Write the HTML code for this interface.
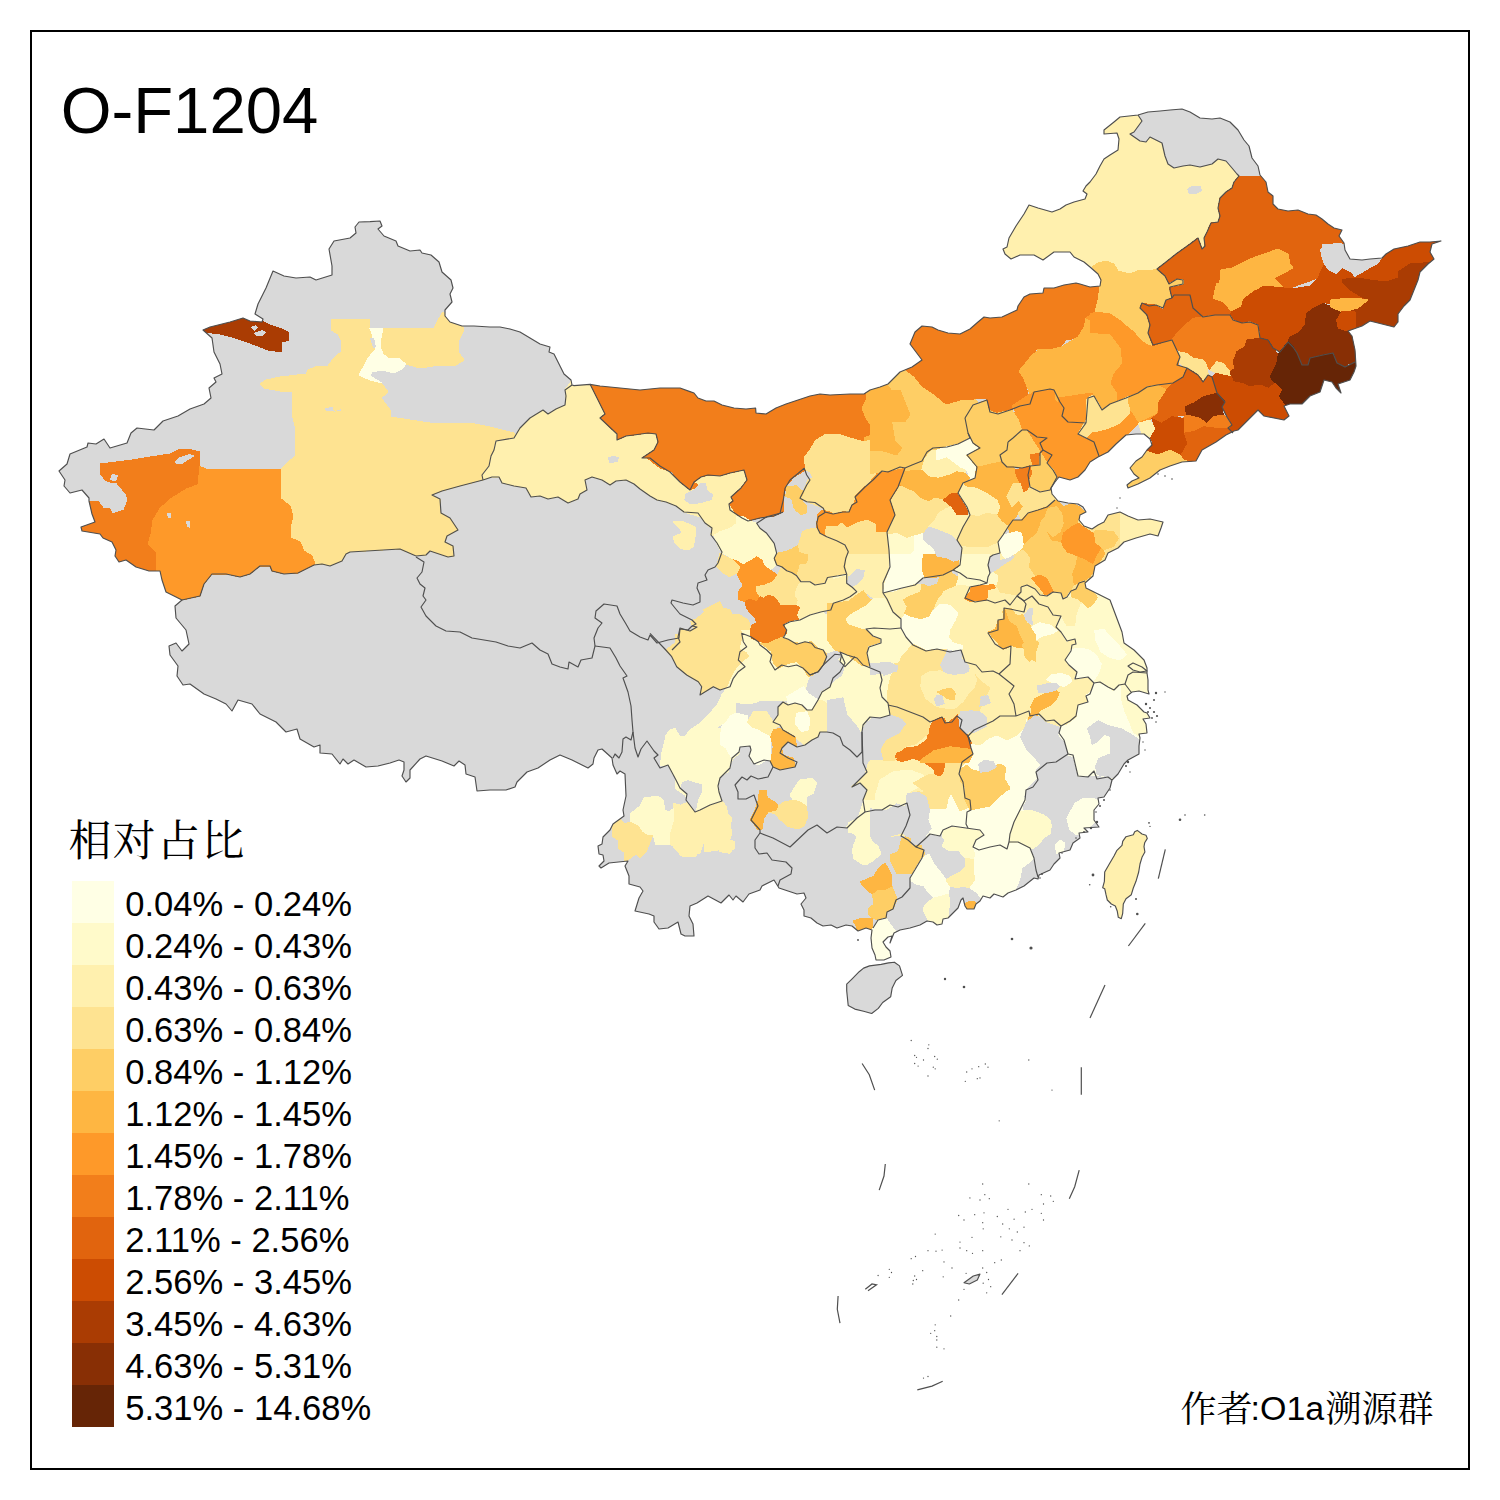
<!DOCTYPE html>
<html><head><meta charset="utf-8"><title>O-F1204</title>
<style>html,body{margin:0;padding:0;background:#fff;}body{width:1500px;height:1500px;overflow:hidden;font-family:"Liberation Sans",sans-serif;}svg{display:block;}</style>
</head><body>
<svg width="1500" height="1500" viewBox="0 0 1500 1500">
<rect x="0" y="0" width="1500" height="1500" fill="#fff"/>
<defs><clipPath id="cn"><polygon points="350,238 334,241 329,249 332,266 332,275 316,280 310,277 296,278 284,276 273,271 266,288 258,304 255,314 263,319 262,322 250,321 243,318 230,322 210,327 203,330 212,338 214,352 220,364 222,374 214,378 216,382 209,388 211,398 204,404 190,409 178,416 163,421 154,430 137,428 131,433 127,443 110,448 104,439 96,444 88,443 87,447 70,454 67,464 59,471 65,480 64,486 70,493 82,490 89,498 89,501 92,514 95,522 81,527 82,531 100,534 103,538 112,542 116,550 115,556 119,562 126,560 136,567 149,571 160,571 162,580 166,592 180,599 182,600 175,606 176,618 186,630 189,644 182,651 176,643 169,646 170,655 178,666 177,676 183,685 190,684 204,694 216,699 226,704 232,711 238,700 252,704 260,714 276,722 286,732 297,729 300,739 314,747 320,745 320,753 332,754 340,764 343,759 348,764 354,760 366,767 378,766 390,763 399,760 404,762 404,770 402,776 406,782 410,778 410,770 420,759 426,756 442,761 454,766 459,761 465,765 466,774 475,777 477,791 490,790 506,790 515,787 517,782 527,772 538,768 550,760 560,755 572,760 588,768 593,764 594,758 598,750 602,749 612,758 613,765 617,774 620,771 625,774 626,796 623,810 624,816 613,824 610,830 603,837 602,844 598,846 599,854 603,855 604,861 599,866 601,868 609,863 628,861 625,866 629,876 629,884 640,887 643,891 639,898 635,911 649,914 654,916 654,922 659,929 668,928 678,922 681,934 685,936 694,936 693,924 689,916 690,906 697,903 708,896 721,903 729,895 733,900 736,896 743,902 749,894 760,890 762,886 774,880 779,888 788,891 797,894 804,893 806,898 801,904 804,910 804,916 811,918 817,923 823,926 831,925 837,928 846,925 852,926 858,931 866,928 872,930 871,938 872,948 875,955 876,960 884,960 891,957 890,951 886,947 883,942 888,937 892,936 890,943 894,933 900,930 910,928 920,925 927,921 933,922 937,925 942,924 943,919 948,918 952,914 958,908 961,900 963,898 965,906 967,909 974,909 976,904 980,901 983,896 990,898 994,894 1003,897 1008,893 1016,890 1024,886 1034,878 1038,879 1039,875 1050,870 1054,864 1060,858 1059,853 1070,850 1073,843 1080,838 1079,833 1088,832 1084,828 1099,827 1094,820 1094,810 1099,804 1098,798 1104,797 1110,788 1112,780 1118,774 1124,764 1128,760 1139,754 1139,746 1140,738 1139,734 1147,733 1146,724 1143,719 1150,718 1147,713 1144,712 1137,705 1128,700 1127,696 1132,692 1139,691 1149,694 1148,690 1148,680 1147,673 1147,668 1144,660 1134,650 1124,643 1122,632 1116,616 1110,600 1098,594 1086,588 1085,583 1093,576 1095,566 1105,560 1108,553 1118,548 1124,542 1136,538 1150,534 1158,536 1161,528 1163,522 1150,519 1138,520 1128,516 1120,512 1108,515 1104,522 1098,525 1092,529 1084,526 1079,520 1080,515 1086,512 1083,507 1078,504 1068,503 1058,501 1052,494 1051,488 1055,482 1059,477 1070,480 1078,477 1085,470 1090,462 1098,457 1108,452 1116,444 1126,435 1136,434 1144,434 1150,439 1152,445 1147,450 1142,457 1136,461 1130,468 1134,474 1139,478 1132,481 1127,485 1128,488 1138,484 1150,478 1160,470 1170,466 1182,462 1196,461 1202,450 1216,442 1226,435 1234,431 1238,430 1250,418 1258,410 1264,416 1284,420 1289,416 1284,406 1290,404 1302,404 1310,396 1320,392 1324,380 1332,382 1336,388 1341,393 1338,384 1350,380 1354,372 1356,366 1355,350 1352,336 1348,331 1362,326 1370,321 1382,324 1394,327 1398,322 1398,314 1404,306 1410,300 1414,290 1418,280 1420,272 1428,264 1434,259 1430,252 1432,244 1441,241 1430,242 1420,242 1408,246 1394,249 1386,254 1382,258 1370,259 1362,260 1350,259 1345,250 1344,243 1339,236 1342,230 1334,228 1328,224 1322,219 1316,215 1308,214 1298,210 1288,211 1278,209 1273,204 1273,196 1268,192 1266,182 1260,175 1258,166 1252,158 1249,146 1244,140 1238,130 1230,122 1220,118 1212,119 1200,118 1190,112 1182,109 1170,110 1160,111 1148,112 1138,115 1120,117 1114,122 1104,130 1104,134 1117,133 1119,139 1118,150 1110,155 1104,159 1100,166 1096,174 1090,182 1086,186 1083,191 1087,194 1085,199 1074,202 1066,205 1060,209 1052,212 1038,208 1029,205 1024,214 1016,226 1009,238 1007,247 1003,249 1005,254 1011,259 1020,255 1034,255 1043,260 1054,252 1070,252 1074,257 1084,262 1090,267 1098,274 1101,280 1100,286 1090,287 1080,284 1076,283 1064,285 1054,288 1044,288 1043,293 1030,294 1024,297 1018,306 1017,310 1002,317 990,318 984,317 978,322 970,329 960,334 948,333 938,330 932,327 922,326 915,332 910,344 916,352 922,360 912,367 900,372 894,378 888,384 880,387 870,390 864,394 850,394 830,395 820,394 810,396 798,400 786,404 776,408 766,414 756,413 755.6,408 746,409 734,408 722,405 714,401 706,401 698,398 694,393 690,391.6 680,388 660,388 640,390 620,388 600,386 590,384.4 574,385.6 572,385 571,380 564,374 560,366 554,354 549,352 550,347 540,344 530,338 520,332 510,329 500,327 490,327 474,326 462,326 450,322 445,316 445,310 452,302 450,294 453,288 451,280 442,272 439,262 431,255 422,253 420,250 410,251 398,246 396,241 384,236 378,229 382,226 380,221 370,221.6 359,222 355,227 356,233"/></clipPath></defs>
<g shape-rendering="crispEdges">
<polygon points="350,238 334,241 329,249 332,266 332,275 316,280 310,277 296,278 284,276 273,271 266,288 258,304 255,314 263,319 262,322 250,321 243,318 230,322 210,327 203,330 212,338 214,352 220,364 222,374 214,378 216,382 209,388 211,398 204,404 190,409 178,416 163,421 154,430 137,428 131,433 127,443 110,448 104,439 96,444 88,443 87,447 70,454 67,464 59,471 65,480 64,486 70,493 82,490 89,498 89,501 92,514 95,522 81,527 82,531 100,534 103,538 112,542 116,550 115,556 119,562 126,560 136,567 149,571 160,571 162,580 166,592 180,599 182,600 175,606 176,618 186,630 189,644 182,651 176,643 169,646 170,655 178,666 177,676 183,685 190,684 204,694 216,699 226,704 232,711 238,700 252,704 260,714 276,722 286,732 297,729 300,739 314,747 320,745 320,753 332,754 340,764 343,759 348,764 354,760 366,767 378,766 390,763 399,760 404,762 404,770 402,776 406,782 410,778 410,770 420,759 426,756 442,761 454,766 459,761 465,765 466,774 475,777 477,791 490,790 506,790 515,787 517,782 527,772 538,768 550,760 560,755 572,760 588,768 593,764 594,758 598,750 602,749 612,758 613,765 617,774 620,771 625,774 626,796 623,810 624,816 613,824 610,830 603,837 602,844 598,846 599,854 603,855 604,861 599,866 601,868 609,863 628,861 625,866 629,876 629,884 640,887 643,891 639,898 635,911 649,914 654,916 654,922 659,929 668,928 678,922 681,934 685,936 694,936 693,924 689,916 690,906 697,903 708,896 721,903 729,895 733,900 736,896 743,902 749,894 760,890 762,886 774,880 779,888 788,891 797,894 804,893 806,898 801,904 804,910 804,916 811,918 817,923 823,926 831,925 837,928 846,925 852,926 858,931 866,928 872,930 871,938 872,948 875,955 876,960 884,960 891,957 890,951 886,947 883,942 888,937 892,936 890,943 894,933 900,930 910,928 920,925 927,921 933,922 937,925 942,924 943,919 948,918 952,914 958,908 961,900 963,898 965,906 967,909 974,909 976,904 980,901 983,896 990,898 994,894 1003,897 1008,893 1016,890 1024,886 1034,878 1038,879 1039,875 1050,870 1054,864 1060,858 1059,853 1070,850 1073,843 1080,838 1079,833 1088,832 1084,828 1099,827 1094,820 1094,810 1099,804 1098,798 1104,797 1110,788 1112,780 1118,774 1124,764 1128,760 1139,754 1139,746 1140,738 1139,734 1147,733 1146,724 1143,719 1150,718 1147,713 1144,712 1137,705 1128,700 1127,696 1132,692 1139,691 1149,694 1148,690 1148,680 1147,673 1147,668 1144,660 1134,650 1124,643 1122,632 1116,616 1110,600 1098,594 1086,588 1085,583 1093,576 1095,566 1105,560 1108,553 1118,548 1124,542 1136,538 1150,534 1158,536 1161,528 1163,522 1150,519 1138,520 1128,516 1120,512 1108,515 1104,522 1098,525 1092,529 1084,526 1079,520 1080,515 1086,512 1083,507 1078,504 1068,503 1058,501 1052,494 1051,488 1055,482 1059,477 1070,480 1078,477 1085,470 1090,462 1098,457 1108,452 1116,444 1126,435 1136,434 1144,434 1150,439 1152,445 1147,450 1142,457 1136,461 1130,468 1134,474 1139,478 1132,481 1127,485 1128,488 1138,484 1150,478 1160,470 1170,466 1182,462 1196,461 1202,450 1216,442 1226,435 1234,431 1238,430 1250,418 1258,410 1264,416 1284,420 1289,416 1284,406 1290,404 1302,404 1310,396 1320,392 1324,380 1332,382 1336,388 1341,393 1338,384 1350,380 1354,372 1356,366 1355,350 1352,336 1348,331 1362,326 1370,321 1382,324 1394,327 1398,322 1398,314 1404,306 1410,300 1414,290 1418,280 1420,272 1428,264 1434,259 1430,252 1432,244 1441,241 1430,242 1420,242 1408,246 1394,249 1386,254 1382,258 1370,259 1362,260 1350,259 1345,250 1344,243 1339,236 1342,230 1334,228 1328,224 1322,219 1316,215 1308,214 1298,210 1288,211 1278,209 1273,204 1273,196 1268,192 1266,182 1260,175 1258,166 1252,158 1249,146 1244,140 1238,130 1230,122 1220,118 1212,119 1200,118 1190,112 1182,109 1170,110 1160,111 1148,112 1138,115 1120,117 1114,122 1104,130 1104,134 1117,133 1119,139 1118,150 1110,155 1104,159 1100,166 1096,174 1090,182 1086,186 1083,191 1087,194 1085,199 1074,202 1066,205 1060,209 1052,212 1038,208 1029,205 1024,214 1016,226 1009,238 1007,247 1003,249 1005,254 1011,259 1020,255 1034,255 1043,260 1054,252 1070,252 1074,257 1084,262 1090,267 1098,274 1101,280 1100,286 1090,287 1080,284 1076,283 1064,285 1054,288 1044,288 1043,293 1030,294 1024,297 1018,306 1017,310 1002,317 990,318 984,317 978,322 970,329 960,334 948,333 938,330 932,327 922,326 915,332 910,344 916,352 922,360 912,367 900,372 894,378 888,384 880,387 870,390 864,394 850,394 830,395 820,394 810,396 798,400 786,404 776,408 766,414 756,413 755.6,408 746,409 734,408 722,405 714,401 706,401 698,398 694,393 690,391.6 680,388 660,388 640,390 620,388 600,386 590,384.4 574,385.6 572,385 571,380 564,374 560,366 554,354 549,352 550,347 540,344 530,338 520,332 510,329 500,327 490,327 474,326 462,326 450,322 445,316 445,310 452,302 450,294 453,288 451,280 442,272 439,262 431,255 422,253 420,250 410,251 398,246 396,241 384,236 378,229 382,226 380,221 370,221.6 359,222 355,227 356,233" fill="#D9D9D9"/>
<g clip-path="url(#cn)" stroke-width="1" stroke-linejoin="round">
<polygon points="331,319 369,319 370,328 375,344 376,349 368,358 364,366 359,374 370,380 382,384 388,392 381,398 390,410 391,417 410,420 430,423 470,423 490,427 514,433 514,438 496,441 494,450 491,456 489,466 482,475 483,480 460,486 442,491 432,495 440,499 441,513 450,518 458,530 447,536 445,542 453,546 454,556 448,557 430,551 426,555 416,556 400,549 350,552 346,554 342,561 330,566 322,564 314,565 315,564 312,556 304,551 300,542 291,538 290,528 293,516 290,506 280,498 280,480 282,468 295,456 295,426 293,418 292,400 293,392 280,391 264,388 260,384 266,380 280,377 306,374 308,370 318,366 328,366 334,358 341,352 342,342 338,334 331,330" fill="#FEE391" stroke="#FEE391"/>
<polygon points="383,328 434,328 438,320 443,312 450,320 462,325 464,330 459,340 458,352 464,360 456,365 440,365 420,368 406,364 398,358 388,358 383,354 380,346 381,338" fill="#FEE391" stroke="#FEE391"/>
<polygon points="369,328 383,328 381,338 380,346 383,354 388,358 398,358 406,364 402,369 394,373 382,370 372,372 370,376 382,383 370,380 359,375 364,366 368,358 376,349 375,344 370,328" fill="#FFFFE5" stroke="#FFFFE5"/>
<polygon points="200,331 210,326 230,321 243,317 250,320 262,321 270,325 282,329 288,332 289,340 282,342 281,352 268,350 250,343 232,337 220,334 212,333" fill="#AA3C03" stroke="#AA3C03"/>
<polygon points="199,466 206,469 281,469 280,480 280,498 290,506 293,516 290,528 291,538 300,542 304,551 312,556 315,564 314,565 298,573 284,574 272,571 270,566 260,566 250,574 240,577 226,574 212,574 204,584 200,596 182,600 170,600 155,580 155,570 156,560 155,552 147,544 150,534 152,520 159,508 170,498 186,488 197,484" fill="#FE9929" stroke="#FE9929"/>
<polygon points="100,464 132,460 150,457 170,454 178,450 188,449 200,452 199,466 197,484 186,488 170,498 159,508 152,520 150,534 147,544 155,552 156,560 155,570 155,582 70,582 60,520 70,505 89,501 98,501 103,508 110,509 112,514 124,510 128,500 126,494 116,482 110,482 105,480 100,473" fill="#F27E1B" stroke="#F27E1B"/>
<polygon points="483,480 482,475 489,466 491,456 494,450 496,441 514,438 520,428 530,418 543,410 548,414 556,409 565,405 566,396 565,390 572,380 592,380 605,414 600,418 617,434 617,440 626,436 634,435 648,433 656,434 658,442 654,450 642,458 650,458 660,466 670,472 680,482 690,490 694,482 701,477 708,475 720,476 730,473 744,470 747,480 741,488 731,497 733,501 729,504 730,510 742,518 748,521 740,524 720,520 700,517 684,512 676,506 666,502 657,500 650,496 640,489 634,484 626,480 616,481 610,485 602,480 592,477 585,480 587,490 580,494 578,499 568,503 558,497 548,499 540,496 531,497 526,488 514,486 502,483 499,477 492,477" fill="#FFF0AE" stroke="#FFF0AE"/>
<polygon points="590,384 590,360 860,360 866,394 866,400 862,408 866,418 870,424 874,434 864,438 864,442 850,438 838,434 826,434 816,440 810,450 804,458 806,470 802,472 794,477 786,486 784,496 783,512 774,516 760,518 748,521 742,518 730,510 729,504 733,501 731,497 741,488 747,480 744,470 730,473 720,476 708,475 701,477 694,482 699,486 690,490 680,482 672,472 660,468 646,457 642,458 654,450 658,442 656,434 648,433 634,435 626,436 617,440 617,434 600,418 605,414" fill="#F27E1B" stroke="#F27E1B"/>
<polygon points="866,394 870,380 888,378 894,392 896,404 906,412 910,418 906,422 892,422 890,428 896,440 900,446 890,444 880,442 870,440 864,442 864,438 874,434 870,424 866,418 862,408 866,400" fill="#FEB642" stroke="#FEB642"/>
<polygon points="888,384 888,370 906,362 914,376 922,386 934,394 946,404 960,400 974,399 978,402 972,410 966,418 964,426 970,434 970,438 958,444 948,446 936,449 928,452 924,458 920,466 910,464 905,468 902,458 900,446 896,440 890,428 892,422 906,422 910,418 906,412 896,404 894,392" fill="#FECE65" stroke="#FECE65"/>
<polygon points="906,370 914,376 922,386 934,394 946,404 960,400 974,399 986,398 990,412 998,414 1010,410 1020,406 1030,403 1026,386 1022,372 1030,364 1036,350 1046,348 1058,350 1066,340 1078,338 1084,328 1086,318 1095,312 1098,300 1100,286 1104,280 1085,276 1000,285 900,325 898,365" fill="#F27E1B" stroke="#F27E1B"/>
<polygon points="816,440 826,434 838,434 850,438 864,442 870,440 880,442 890,444 900,446 902,458 905,468 898,469 890,472 882,469 876,475 870,482 862,490 856,496 854,504 856,508 850,509 849,514 842,515 836,516 830,512 818,506 808,502 800,499 804,490 808,480 813,478 810,472 806,470 804,458 810,450" fill="#FEE391" stroke="#FEE391"/>
<polygon points="788,486 798,488 804,492 800,499 799,504 807,506 806,513 800,514 794,508 792,500 786,494" fill="#FECE65" stroke="#FECE65"/>
<polygon points="905,468 902,472 898,484 896,492 890,500 892,510 895,518 890,526 887,532 880,532 876,522 864,520 854,524 848,530 844,524 838,525 830,530 826,528 826,536 818,534 816,528 818,514 822,510 830,512 836,516 849,514 850,509 856,508 854,504 856,496 862,490 870,482 876,475 882,469 890,472 898,469" fill="#FE9929" stroke="#FE9929"/>
<polygon points="683.3,508.3 698.3,513.3 705,523.3 711.7,528.3 710.8,535 714.2,535 720,531.7 730,528.3 736.7,523.3 736.7,516.7 733.3,511.7 729.2,505 716.7,505 700,505" fill="#FFF0AE" stroke="#FFF0AE"/>
<polygon points="736.7,516.7 743.3,516.7 750,520.8 756.7,523.3 760,528.3 766.7,533.3 773.3,543.3 776.7,553.3 774.2,558.3 776.7,565 770,570 765,566.7 761.7,560 756.7,556.7 751.7,560 743.3,565 736.7,560 731.7,558.3 721.7,552.5 716.7,543.3 714.2,535 720,531.7 730,528.3 736.7,523.3" fill="#FFFACA" stroke="#FFFACA"/>
<polygon points="786.7,486.7 796.7,485.8 801.7,491.7 800,498.3 805.8,505 806.7,511.7 801.7,515 795,510 796.7,503.3 791.7,498.3 785.8,496.7" fill="#FECE65" stroke="#FECE65"/>
<polygon points="774.2,558.3 776.7,553.3 785,551.7 791.7,549.2 798.3,545 800,551.7 808.3,554.2 808.3,560 806.7,564.2 800,565 798.3,571.7 796.7,575.8 791.7,572.5 786.7,570.8 781.7,566.7 776.7,565" fill="#FECE65" stroke="#FECE65"/>
<polygon points="800,540 802.5,531.7 808.3,529.2 817.5,528.3 820,533.3 826.7,536.7 836.7,540.8 845,545 848.3,551.7 845.8,558.3 844.2,566.7 846.7,574.2 838.3,575.8 827.5,577.5 825,583.3 815,585 810,581.7 800.8,581.7 796.7,575.8 798.3,571.7 800,565 806.7,564.2 808.3,560 808.3,554.2 800,551.7 798.3,545" fill="#FEE391" stroke="#FEE391"/>
<polygon points="817.5,528.3 816.7,523.3 818.3,516.7 825,512.5 833.3,514.2 843.3,511.7 849.2,512.5 851.7,505 857.5,501.7 855,496.7 865,486.7 873.3,480 881.7,470.8 888.3,471.7 900,466.7 905,468.3 905,488.3 890,498.3 890,506.7 895,516.7 890,528.3 886.7,531.7 880,532.5 876.7,525 866.7,520 856.7,523.3 846.7,528.3 841.7,523.3 836.7,526.7 826.7,526.7 825,533.3 820,533.3" fill="#FE9929" stroke="#FE9929"/>
<polygon points="825,533.3 826.7,526.7 836.7,526.7 841.7,523.3 846.7,528.3 856.7,523.3 866.7,520 876.7,525 880,532.5 886.7,531.7 888.3,543.3 890,556.7 890,566.7 883.3,565 881.7,570 871.7,572.5 865,570 858.3,575 853.3,581.7 846.7,574.2 844.2,566.7 845.8,558.3 848.3,551.7 845,545 836.7,540.8 826.7,536.7" fill="#FEE391" stroke="#FEE391"/>
<polygon points="731.7,559.2 736.7,560.8 743.3,565 751.7,560 756.7,556.7 761.7,560 765,566.7 770,570 777.5,575 773.3,581.7 765,585 756.7,586.7 756.7,591.7 760,596.7 756.7,601.7 750,599.2 745,601.7 738.3,599.2 738.3,591.7 743.3,585 740,580 736.7,573.3 740,566.7" fill="#FE9929" stroke="#FE9929"/>
<polygon points="720,553.3 731.7,559.2 740,566.7 736.7,573.3 730,576.7 723.3,573.3 716.7,566.7 718.3,560" fill="#FEE391" stroke="#FEE391"/>
<polygon points="756.7,586.7 765,585 773.3,581.7 777.5,575 781.7,566.7 786.7,570.8 791.7,572.5 796.7,575.8 800.8,581.7 796.7,588.3 795,595 798.3,600 796.7,605 780,605 776.7,600 773.3,596.7 768.3,595 763.3,598.3 760,596.7 756.7,591.7" fill="#FEE391" stroke="#FEE391"/>
<polygon points="745,601.7 750,599.2 756.7,601.7 760,596.7 763.3,598.3 768.3,595 773.3,596.7 776.7,600 780,605 796.7,605 800.8,606.7 797.5,615 800,620 790,621.7 783.3,625 786.7,630 785,635 776.7,638.3 773.3,641.7 766.7,643.3 758.3,641.7 751.7,636.7 750.8,628.3 758.3,625.8 755,618.3 750,613.3 746.7,608.3" fill="#F27E1B" stroke="#F27E1B"/>
<polygon points="673.3,521.7 683.3,521.7 695,526.7 695,536.7 693.3,546.7 688.3,550 680,548.3 675,543.3 673.3,536.7 681.7,533.3 680,528.3" fill="#FFF0AE" stroke="#FFF0AE"/>
<polygon points="690.8,621.7 694.2,619.2 695.8,623.3 692.5,626.7" fill="#FEE391" stroke="#FEE391"/>
<polygon points="680,628.3 690,630.8 696.7,626.7 705,623.3 708.3,618.3 703.3,610 713.3,605 720,601.7 723.3,608.3 730,614.2 740,615 748.3,620 750.8,628.3 745,631.7 741.7,633.3 743.3,641.7 746.7,646.7 740,651.7 738.3,660 745,666.7 738.3,671.7 733.3,678.3 730,686.7 720,690 713.3,686.7 700,695 701.7,686.7 698.3,681.7 686.7,675 676.7,666.7 671.7,656.7 665.8,650 675,643.3 680.8,636.7" fill="#FEE391" stroke="#FEE391"/>
<polygon points="758.3,641.7 766.7,643.3 773.3,641.7 776.7,638.3 783.3,637.5 788.3,639.2 796.7,644.2 805,641.7 811.7,643.3 815,647.5 823.3,650 826.7,656.7 823.3,665 818.3,671.7 810,675 803.3,668.3 796.7,665 788.3,666.7 781.7,665 775,670 770,661.7 771.7,655 766.7,650 760,645" fill="#FECE65" stroke="#FECE65"/>
<polygon points="800.8,581.7 810,581.7 815,585 825,583.3 827.5,577.5 833.3,576.7 833.3,603.3 830.8,610 821.7,611.7 810,615 800,620 797.5,615 800.8,606.7 796.7,605 798.3,600 795,595 796.7,588.3" fill="#FFF0AE" stroke="#FFF0AE"/>
<polygon points="833.3,576.7 838.3,575.8 846.7,574.2 846.7,583.3 852.5,587.5 856.7,591.7 850,596.7 843.3,600 833.3,603.3" fill="#FFFACA" stroke="#FFFACA"/>
<polygon points="830.8,610 833.3,603.3 843.3,600 850,596.7 856.7,591.7 863.3,590.8 865,596.7 871.7,601.7 866.7,606.7 865,613.3 855,614.2 846.7,620 846.7,625 855,630 866.7,631.7 871.7,630 873.3,636.7 881.7,638.3 880,644.2 870,646.7 866.7,651.7 868.3,665 861.7,665 855,656.7 843.3,653.3 838.3,648.3 835,638.3 833.3,626.7 835,620 826.7,615" fill="#FECE65" stroke="#FECE65"/>
<polygon points="786.7,630 783.3,625 790,621.7 800,620 810,615 821.7,611.7 826.7,615 835,620 833.3,626.7 835,638.3 838.3,648.3 835,654.2 826.7,656.7 823.3,650 815,647.5 811.7,643.3 805,641.7 796.7,644.2 788.3,639.2 783.3,637.5 785,635" fill="#FFFACA" stroke="#FFFACA"/>
<polygon points="986.7,573.3 1096.7,573.3 1096.7,616.7 986.7,616.7" fill="#FEE391" stroke="#FEE391"/>
<polygon points="870,416.7 891.7,416.7 913.3,410 946.7,406.7 965,418.3 968.3,433.3 973.3,443.3 980,448.3 966.7,455 946.7,450 921.7,470 901.7,471.7 890,471.7 870,473.3" fill="#FECE65" stroke="#FECE65"/>
<polygon points="870,390 900,390 910,415 905,421.7 891.7,421.7 895,441.7 901.7,448.3 896.7,455 880,450 870,450" fill="#FEB642" stroke="#FEB642"/>
<polygon points="921.7,470 925,458.3 931.7,450 936.7,450 936.7,460 946.7,456.7 953.3,461.7 960,466.7 966.7,470 965,473.3 956.7,471.7 950,475 938.3,478.3 928.3,476.7" fill="#FFF0AE" stroke="#FFF0AE"/>
<polygon points="936.7,450 946.7,446.7 958.3,444.2 970,438.3 976.7,445 980,448.3 966.7,455 976.7,466.7 975,478.3 970,478.3 966.7,470 960,466.7 953.3,461.7 946.7,456.7 936.7,460" fill="#FFFFE5" stroke="#FFFFE5"/>
<polygon points="901.7,471.7 921.7,470 928.3,476.7 938.3,478.3 950,475 956.7,471.7 965,473.3 970,478.3 963.3,483.3 958.3,493.3 951.7,493.3 943.3,500 935,498.3 928.3,501.7 920,498.3 913.3,491.7 901.7,486.7 899.2,480" fill="#FEB642" stroke="#FEB642"/>
<polygon points="890,500 898.3,486.7 901.7,486.7 913.3,491.7 920,498.3 928.3,501.7 935,498.3 943.3,500 951.7,506.7 946.7,508.3 938.3,513.3 935,520 928.3,526.7 923.3,533.3 906.7,538.3 896.7,533.3 888.3,535 886.7,531.7 895,515" fill="#FEE391" stroke="#FEE391"/>
<polygon points="935,520 938.3,513.3 946.7,508.3 951.7,506.7 956.7,514.2 967.5,514.2 970,515 963.3,526.7 956.7,540 951.7,535 943.3,531.7 935,528.3 928.3,526.7" fill="#FFF0AE" stroke="#FFF0AE"/>
<polygon points="943.3,500 951.7,493.3 958.3,493.3 966.7,506.7 967.5,514.2 956.7,514.2 951.7,506.7" fill="#E1640E" stroke="#E1640E"/>
<polygon points="888.3,535 896.7,533.3 906.7,538.3 923.3,533.3 922.5,538.3 926.7,543.3 933.3,548.3 936.7,556.7 930,560 921.7,565 923.3,576.7 915,585 901.7,588.3 886.7,593.3 883.3,583.3 890,566.7 889.2,550" fill="#FFFFE5" stroke="#FFFFE5"/>
<polygon points="888.3,535 896.7,533.3 906.7,538.3 913.3,536.7 913.3,550 905,560 896.7,566.7 890,566.7 889.2,550" fill="#FFFACA" stroke="#FFFACA"/>
<polygon points="921.7,565 930,560 936.7,556.7 946.7,558.3 953.3,561.7 960,560 960,565 953.3,570 943.3,575 935,576.7 925,576.7" fill="#FEB642" stroke="#FEB642"/>
<polygon points="1013.3,413.3 1030,408.3 1046.7,400 1060,400 1063.3,410 1066.7,421.7 1080,422.5 1076.7,433.3 1085,440 1093.3,441.7 1098.3,455 1110,455 1096.7,470 1083.3,486.7 1068.3,486.7 1056.7,476.7 1053.3,470 1046.7,463.3 1046.7,455 1040,443.3 1046.7,438.3 1036.7,436.7 1026.7,430 1021.7,430 1018.3,420" fill="#FE9929" stroke="#FE9929"/>
<polygon points="965,418.3 973.3,405 986.7,400 988.3,410 996.7,413.3 1011.7,410 1018.3,420 1021.7,430 1013.3,438.3 1008.3,441.7 1006.7,450 1000,455 1001.7,461.7 995,463.3 986.7,465 980,466.7 976.7,466.7 966.7,455 980,448.3 973.3,443.3 968.3,433.3" fill="#FECE65" stroke="#FECE65"/>
<polygon points="1008.3,441.7 1013.3,438.3 1021.7,430 1026.7,430 1036.7,436.7 1046.7,438.3 1040,443.3 1043.3,450 1040,453.3 1040,465 1030,465.8 1021.7,468.3 1013.3,466.7 1006.7,466.7 1001.7,461.7 1000,455 1006.7,450" fill="#FECE65" stroke="#FECE65"/>
<polygon points="1030,455 1039.2,453.3 1038.3,465 1032.5,464.2" fill="#F27E1B" stroke="#F27E1B"/>
<polygon points="1030,465.8 1040,465 1040,453.3 1043.3,450 1051.7,455 1046.7,463.3 1053.3,470 1056.7,476.7 1051.7,493.3 1040,491.7 1030,486.7 1028.3,475" fill="#FECE65" stroke="#FECE65"/>
<polygon points="980,466.7 986.7,465 995,463.3 1001.7,461.7 1006.7,466.7 1013.3,466.7 1015,470 1016.7,476.7 1020,483.3 1023.3,493.3 1018.3,500 1023.3,506.7 1018.3,513.3 1013.3,520 1008.3,526.7 1001.7,521.7 996.7,515 1000,506.7 996.7,500 986.7,493.3 976.7,488.3 965,486.7 963.3,483.3 975,478.3 976.7,466.7" fill="#FEB642" stroke="#FEB642"/>
<polygon points="1015,470 1021.7,468.3 1030,465.8 1031.7,473.3 1028.3,480 1028.3,490 1023.3,493.3 1020,483.3 1016.7,476.7" fill="#F27E1B" stroke="#F27E1B"/>
<polygon points="1006.7,496.7 1013.3,483.3 1020,483.3 1023.3,493.3 1028.3,490 1030,486.7 1040,491.7 1051.7,491.7 1056.7,500 1046.7,506.7 1038.3,510 1028.3,513.3 1021.7,520 1018.3,513.3 1023.3,506.7 1018.3,500 1011.7,506.7" fill="#FEE391" stroke="#FEE391"/>
<polygon points="958.3,493.3 963.3,483.3 965,486.7 976.7,488.3 986.7,493.3 996.7,500 1000,506.7 996.7,515 986.7,513.3 978.3,516.7 970,515 966.7,506.7" fill="#FFF0AE" stroke="#FFF0AE"/>
<polygon points="970,515 978.3,516.7 986.7,513.3 996.7,515 1001.7,521.7 1008.3,526.7 1003.3,535 998.3,541.7 1000,553.3 993.3,555 980,553.3 970,550 961.7,548.3 956.7,540 963.3,526.7" fill="#FEE391" stroke="#FEE391"/>
<polygon points="961.7,548.3 970,550 980,553.3 993.3,555 988.3,566.7 988.3,576.7 986.7,583.3 973.3,580 960,573.3 953.3,570 960,565" fill="#FFFACA" stroke="#FFFACA"/>
<polygon points="968.3,558.3 976.7,556.7 983.3,561.7 980,568.3 971.7,568.3" fill="#FEE391" stroke="#FEE391"/>
<polygon points="1023.3,545 1030,538.3 1036.7,531.7 1040,523.3 1046.7,530 1051.7,540 1061.7,541.7 1063.3,546.7 1068.3,553.3 1065,566.7 1053.3,575 1045,576.7 1035,576.7 1030,583.3 1021.7,585 1006.7,590 1000,588.3 993.3,583.3 986.7,583.3 988.3,576.7 990,573.3 996.7,570 1003.3,565 1011.7,560 1015,553.3" fill="#FECE65" stroke="#FECE65"/>
<polygon points="986.7,583.3 988.3,576.7 990,573.3 996.7,570 1003.3,565 1011.7,560 1015,553.3 1023.3,550 1030,558.3 1028.3,566.7 1035,576.7 1030,583.3 1021.7,585 1006.7,590 1000,588.3 993.3,583.3" fill="#FEE391" stroke="#FEE391"/>
<polygon points="1008.3,526.7 1013.3,520 1021.7,520 1028.3,513.3 1038.3,510 1046.7,506.7 1045,516.7 1040,523.3 1036.7,531.7 1030,538.3 1023.3,545 1021.7,533.3 1016.7,531.7 1010,533.3" fill="#FEB642" stroke="#FEB642"/>
<polygon points="998.3,541.7 1003.3,535 1010,533.3 1016.7,531.7 1021.7,533.3 1023.3,545 1015,553.3 1006.7,558.3 1000,553.3" fill="#FFFFE5" stroke="#FFFFE5"/>
<polygon points="1046.7,506.7 1056.7,500 1063.3,506.7 1073.3,503.3 1081.7,508.3 1086.7,515 1080,516.7 1078.3,523.3 1071.7,526.7 1063.3,533.3 1061.7,541.7 1051.7,540 1046.7,530 1040,523.3 1045,516.7" fill="#FEB642" stroke="#FEB642"/>
<polygon points="1045,516.7 1048.3,508.3 1056.7,506.7 1061.7,513.3 1063.3,523.3 1060,531.7 1053.3,536.7 1046.7,530 1040,523.3" fill="#FECE65" stroke="#FECE65"/>
<polygon points="1078.3,523.3 1080,516.7 1096.7,516.7 1113.3,508.3 1135,508.3 1135,533.3 1121.7,550 1105,566.7 1093.3,583.3 1083.3,581.7 1090,573.3 1093.3,565 1096.7,556.7 1101.7,548.3 1095,543.3 1093.3,533.3 1088.3,530" fill="#FEE391" stroke="#FEE391"/>
<polygon points="1093.3,533.3 1096.7,530 1113.3,531.7 1118.3,538.3 1113.3,546.7 1103.3,550 1101.7,548.3 1095,543.3" fill="#FECE65" stroke="#FECE65"/>
<polygon points="1063.3,533.3 1071.7,526.7 1078.3,523.3 1088.3,530 1093.3,533.3 1095,543.3 1101.7,548.3 1096.7,556.7 1093.3,565 1085,560 1076.7,556.7 1068.3,553.3 1063.3,546.7 1061.7,541.7" fill="#FE9929" stroke="#FE9929"/>
<polygon points="1076.7,556.7 1085,560 1093.3,565 1096.7,556.7 1101.7,548.3 1105,553.3 1096.7,566.7 1090,576.7 1083.3,581.7 1073.3,585 1071.7,573.3 1075,565" fill="#FEB642" stroke="#FEB642"/>
<polygon points="1065,566.7 1068.3,553.3 1076.7,556.7 1075,565 1071.7,573.3 1073.3,585 1068.3,595 1061.7,598.3 1056.7,591.7 1051.7,596.7 1045,590 1036.7,583.3 1045,576.7 1053.3,575" fill="#FECE65" stroke="#FECE65"/>
<polygon points="1031.7,578.3 1040,575 1046.7,578.3 1053.3,591.7 1050,596.7 1045,595 1040,588.3" fill="#FE9929" stroke="#FE9929"/>
<polygon points="970,586.7 980,585 986.7,583.3 993.3,583.3 995,586.7 986.7,591.7 986.7,600 975,601.7 965,598.3" fill="#FE9929" stroke="#FE9929"/>
<polygon points="876.7,473.3 890,471.7 905,468.3 898.3,486.7 890,500 895,515 886.7,531.7 876.7,531.7" fill="#FE9929" stroke="#FE9929"/>
<polygon points="870,610 1063.3,610 1096.7,620 1096.7,686.7 1080,700 1060,726.7 1030,723.3 973.3,736.7 930,713.3 870,713.3" fill="#FFF0AE" stroke="#FFF0AE"/>
<polygon points="901.7,615 960,615 963.3,630 960,650 946.7,651.7 935,650 921.7,648.3 911.7,640 903.3,630" fill="#FFFFE5" stroke="#FFFFE5"/>
<polygon points="960,615 1000,615 996.7,628.3 988.3,631.7 995,636.7 980,646.7 966.7,645 961.7,650 960,636.7" fill="#FFFACA" stroke="#FFFACA"/>
<polygon points="885,653.3 901.7,650 911.7,640 921.7,648.3 935,650 946.7,651.7 940,665 943.3,671.7 953.3,675 966.7,673.3 973.3,680 973.3,706.7 958.3,715 956.7,715.8 951.7,721.7 945,723.3 941.7,716.7 935,720 928.3,726.7 928.3,743.3 910,748.3 895,753.3 886.7,746.7 870,753.3 870,670 885,670" fill="#FEE391" stroke="#FEE391"/>
<polygon points="870,626.7 896.7,630 903.3,630 911.7,640 901.7,650 885,653.3 870,656.7" fill="#FFFACA" stroke="#FFFACA"/>
<polygon points="921.7,675 935,670 943.3,671.7 953.3,675 966.7,673.3 973.3,680 983.3,676.7 990,686.7 986.7,695 980,700 973.3,706.7 963.3,706.7 953.3,703.3 943.3,706.7 935,703.3 923.3,695 920,683.3" fill="#FFF0AE" stroke="#FFF0AE"/>
<polygon points="938.3,693.3 946.7,689.2 953.3,688.3 955,698.3 946.7,700" fill="#FECE65" stroke="#FECE65"/>
<polygon points="870,753.3 886.7,746.7 895,753.3 896.7,758.3 905,760 911.7,755 921.7,758.3 923.3,763.3 928.3,768.3 933.3,773.3 940,776.7 943.3,771.7 945,761.7 966.7,761.7 960,770 965,778.3 963.3,791.7 968.3,800 970,810 966.7,826.7 946.7,828.3 930,835 870,836.7" fill="#FFF0AE" stroke="#FFF0AE"/>
<polygon points="913.3,775 923.3,763.3 928.3,768.3 933.3,773.3 940,776.7 943.3,771.7 945,761.7 966.7,761.7 960,770 965,778.3 963.3,791.7 968.3,800 970,810 961.7,810 953.3,793.3 946.7,795 945,808.3 930,808.3 925,796.7 918.3,791.7 913.3,786.7" fill="#FEE391" stroke="#FEE391"/>
<polygon points="870,766.7 893.3,766.7 906.7,773.3 913.3,786.7 906.7,793.3 905,806.7 896.7,803.3 886.7,810 870,808.3" fill="#FFFACA" stroke="#FFFACA"/>
<polygon points="930,810 945,808.3 946.7,795 953.3,793.3 961.7,810 970,810 966.7,826.7 946.7,828.3 931.7,828.3 928.3,820" fill="#FFFFE5" stroke="#FFFFE5"/>
<polygon points="973.3,736.7 988.3,723.3 1003.3,715 1026.7,713.3 1026.7,721.7 1020,736.7 1026.7,750 1033.3,756.7 1040,765 1035,770 1036.7,778.3 1026.7,788.3 1021.7,803.3 1023.3,811.7 1013.3,823.3 1010,836.7 1008.3,841.7 996.7,845 976.7,850 973.3,846.7 980,836.7 983.3,831.7 973.3,828.3 966.7,826.7 970,810 968.3,800 963.3,791.7 965,778.3 960,770 966.7,761.7 972.5,753.3 970.8,741.7" fill="#FFFFE5" stroke="#FFFFE5"/>
<polygon points="968.3,735 973.3,728.3 983.3,726.7 1003.3,715 1026.7,713.3 1025,726.7 1016.7,735 1006.7,740 996.7,735 988.3,738.3 980,745 971.7,743.3" fill="#FFF0AE" stroke="#FFF0AE"/>
<polygon points="960,770 966.7,765 973.3,771.7 980,773.3 993.3,766.7 1003.3,765 1005,773.3 1003.3,783.3 1010,788.3 1005,795 996.7,796.7 991.7,806.7 980,808.3 970,810 968.3,800 963.3,791.7 965,778.3" fill="#FECE65" stroke="#FECE65"/>
<polygon points="1060,726.7 1080,700 1093.3,681.7 1101.7,683.3 1113.3,688.3 1121.7,685 1140,685 1140,770 1111.7,778.3 1096.7,775 1078.3,776.7 1073.3,756.7 1068.3,755 1065,743.3 1058.3,735" fill="#FFFFE5" stroke="#FFFFE5"/>
<polygon points="1121.7,685 1140,685 1140,736.7 1136.7,735 1130,723.3 1125,711.7 1121.7,700" fill="#FFFACA" stroke="#FFFACA"/>
<polygon points="1008.3,841.7 1013.3,823.3 1023.3,811.7 1031.7,815 1040,820 1046.7,818.3 1051.7,825 1050,833.3 1043.3,838.3 1038.3,845 1033.3,848.3 1023.3,843.3 1016.7,841.7" fill="#FFFACA" stroke="#FFFACA"/>
<polygon points="1066.7,818.3 1075,803.3 1083.3,798.3 1093.3,798.3 1100,801.7 1096.7,811.7 1095,821.7 1086.7,830 1076.7,835 1070,830" fill="#FFFFE5" stroke="#FFFFE5"/>
<polygon points="1055,845 1060,840 1065,843.3 1063.3,851.7 1056.7,853.3" fill="#FFFFE5" stroke="#FFFFE5"/>
<polygon points="1008.3,608.3 1030,608.3 1038.3,620 1030,633.3 1036.7,641.7 1035,655 1030,661.7 1025,653.3 1023.3,645 1011.7,646.7 1006.7,630" fill="#FECE65" stroke="#FECE65"/>
<polygon points="988.3,631.7 996.7,628.3 1000,620 1000,608.3 1013.3,608.3 1011.7,620 1018.3,630 1025,638.3 1023.3,645 1011.7,646.7 1003.3,648.3 996.7,643.3 995,636.7" fill="#FEB642" stroke="#FEB642"/>
<polygon points="1030,625 1038.3,620 1046.7,623.3 1056.7,626.7 1056.7,635 1046.7,638.3 1036.7,641.7 1030,633.3" fill="#FFFFE5" stroke="#FFFFE5"/>
<polygon points="1046.7,678.3 1056.7,671.7 1068.3,673.3 1071.7,681.7 1060,686.7 1056.7,682.5 1046.7,683.3" fill="#FFFFE5" stroke="#FFFFE5"/>
<polygon points="1028.3,721.7 1031.7,711.7 1030,705 1036.7,698.3 1046.7,691.7 1056.7,690 1060,693.3 1053.3,703.3 1046.7,708.3 1038.3,713.3 1035,716.7" fill="#FEB642" stroke="#FEB642"/>
<polygon points="961.7,650 966.7,645 980,646.7 995,636.7 1003.3,648.3 1010,646.7 1010,665 1000,668.3 993.3,673.3 980,668.3 970,663.3 963.3,660" fill="#FEE391" stroke="#FEE391"/>
<polygon points="928.3,726.7 935,720 941.7,716.7 945,723.3 951.7,721.7 956.7,715.8 961.7,720 960,728.3 966.7,735 970.8,741.7 970,748.3 951.7,746.7 936.7,750 921.7,758.3 911.7,755 905,760 896.7,758.3 895,753.3 910,748.3 928.3,743.3" fill="#F27E1B" stroke="#F27E1B"/>
<polygon points="921.7,758.3 936.7,750 951.7,746.7 970,748.3 972.5,753.3 966.7,761.7 945,761.7 931.7,763.3 923.3,761.7" fill="#FEB642" stroke="#FEB642"/>
<polygon points="923.3,763.3 931.7,763.3 945,761.7 943.3,771.7 940,776.7 933.3,773.3 928.3,768.3" fill="#F27E1B" stroke="#F27E1B"/>
<polygon points="891.7,855 901.7,850 905,836.7 910,838.3 911.7,848.3 921.7,850 923.3,856.7 920,873.3 896.7,873.3 890,860" fill="#FECE65" stroke="#FECE65"/>
<polygon points="960,546.7 986.7,548 998.7,542.7 1001.3,553.3 1005.3,558.7 998.7,564 989.3,573.3 986.7,582.7 996,586.7 1000,593.3 1017.3,596 1024,601.3 1032,596 1038.7,604 1048,606.7 1053.3,614.7 1061.3,616 1056,626.7 1061.3,632 1066.7,641.3 1074.7,638.7 1076,644 1072,645.3 1070.7,650.7 1065.3,660 1069.3,665.3 1077.3,672 1074.7,678.7 1088,677.3 1093.3,681.3 1090.7,690.7 1085.3,694.7 1086.7,701.3 1077.3,705.3 1076,717.3 1066.7,724 1061.3,725.3 1053.3,720 1045.3,718.7 1038.7,713.3 1030.7,722 1028,718.7 1016,714.7 1000,718.7 992,724 986.7,713.3 973.3,710.7 960,710.7" fill="#FFF0AE" stroke="#FFF0AE"/>
<polygon points="1021.3,586.7 1026.7,585.3 1034.7,589.3 1040,594.7 1046.7,596 1053.3,592 1061.3,593.3 1062.7,598.7 1066.7,597.3 1070.7,590.7 1076,589.3 1078.7,582.7 1085.3,580 1093.3,590.7 1110.7,598.7 1120,620 1128,644 1138.7,652 1146.7,660 1149.3,668 1149.3,686.7 1145.3,690.7 1137.3,690.7 1130.7,692 1125.3,684 1120,685.3 1113.3,690.7 1104,684 1093.3,681.3 1088,677.3 1074.7,678.7 1077.3,672 1069.3,665.3 1065.3,660 1070.7,650.7 1072,645.3 1076,644 1074.7,638.7 1066.7,641.3 1061.3,632 1056,626.7 1061.3,616 1053.3,614.7 1048,606.7 1038.7,604 1032,596 1024,601.3 1017.3,596 1021.3,592" fill="#FFFACA" stroke="#FFFACA"/>
<polygon points="1032,596 1038.7,604 1048,606.7 1053.3,614.7 1061.3,616 1066.7,625.3 1074.7,625.3 1076,614.7 1080,604 1082.7,602.7 1077.3,598.7 1072,597.3 1066.7,597.3 1062.7,598.7 1061.3,593.3 1053.3,592 1046.7,596 1040,594.7 1034.7,589.3 1026.7,585.3 1021.3,586.7 1021.3,592 1017.3,596 1024,601.3" fill="#FFF0AE" stroke="#FFF0AE"/>
<polygon points="1070.7,590.7 1076,589.3 1078.7,582.7 1085.3,580 1088,585.3 1093.3,592 1097.3,597.3 1093.3,604 1088,608 1082.7,602.7 1077.3,598.7 1072,597.3" fill="#FECE65" stroke="#FECE65"/>
<polygon points="1066.7,660 1070.7,650.7 1076,648 1088,649.3 1096,654.7 1101.3,664 1098.7,673.3 1093.3,681.3 1088,677.3 1074.7,678.7 1077.3,672 1069.3,665.3" fill="#FFFFE5" stroke="#FFFFE5"/>
<polygon points="1094.7,630.7 1104,629.3 1109.3,636 1120,646.7 1126.7,654.7 1120,660 1109.3,657.3 1101.3,652 1096,641.3" fill="#FFFFE5" stroke="#FFFFE5"/>
<polygon points="1125.3,684 1128,674.7 1133.3,672 1146.7,673.3 1149.3,686.7 1146.7,700 1133.3,701.3 1126.7,696 1130.7,692" fill="#FFFACA" stroke="#FFFACA"/>
<polygon points="968,560 976,557.3 986.7,560 985.3,568 976,569.3 969.3,566.7" fill="#FEE391" stroke="#FEE391"/>
<polygon points="998.7,542.7 1004,537.3 1022.7,537.3 1022.7,546.7 1017.3,552 1005.3,558.7 1001.3,553.3" fill="#FFFFE5" stroke="#FFFFE5"/>
<polygon points="1029.3,633.3 1032,626.7 1040,622.7 1050.7,625.3 1057.3,630.7 1053.3,633.3 1042.7,636 1036,640" fill="#FFFFE5" stroke="#FFFFE5"/>
<polygon points="1046.7,680 1052,674.7 1061.3,673.3 1069.3,676 1072,681.3 1064,686.7 1056,684" fill="#FFFFE5" stroke="#FFFFE5"/>
<polygon points="1002.7,612 1005.3,608 1010.7,609.3 1014.7,616 1022.7,614.7 1026.7,622.7 1030.7,625.3 1029.3,633.3 1034.7,640 1038.7,642.7 1036,650.7 1034.7,657.3 1029.3,661.3 1025.3,657.3 1024,650.7 1025.3,646.7 1024,642.7 1017.3,637.3 1010.7,633.3 1009.3,625.3 1005.3,620" fill="#FECE65" stroke="#FECE65"/>
<polygon points="988,632 994.7,630.7 998.7,621.3 1005.3,620 1009.3,625.3 1010.7,633.3 1017.3,637.3 1024,642.7 1025.3,646.7 1018.7,648 1010.7,645.3 1005.3,648 1000,646.7 994.7,641.3 993.3,636" fill="#FEB642" stroke="#FEB642"/>
<polygon points="1028,718.7 1032,712 1030.7,706.7 1034.7,698.7 1045.3,693.3 1056,690.7 1059.3,692.7 1056,700 1050.7,705.3 1040,710.7 1036,717.3 1030.7,722" fill="#FEB642" stroke="#FEB642"/>
<polygon points="965.3,598.7 970.7,596 972,586.7 985.3,585.3 993.3,584 994.9,587.3 988,589.3 986.7,601.3 977.3,602 968,600.7" fill="#FE9929" stroke="#FE9929"/>
<polygon points="962.7,646.7 973.3,644 986.7,645.3 1009.3,646.7 1010.7,664 1002.7,666.7 998.7,673.3 993.3,672 986.7,673.3 980,668 973.3,665.3 965.3,661.3" fill="#FEE391" stroke="#FEE391"/>
<polygon points="973.3,674.7 986.7,673.3 993.3,678.7 990.7,686.7 986.7,692 980,693.3 974.7,686.7" fill="#FEE391" stroke="#FEE391"/>
<polygon points="743,633 751,637 758,642 760,645 767,650 772,655 770,662 775,670 782,665 788,667 797,665 803,668 810,675 807,683 805,690 800,700 723,700 730,687 733,678 738,672 745,667 738,660 740,652 747,647 743,642" fill="#FFFACA" stroke="#FFFACA"/>
<polygon points="675,635 693.3,630 695,620 713.3,605 730,610 735,620 741.7,630 743.3,636.7 740,648.3 746.7,651.7 750,656.7 743.3,661.7 736.7,668.3 733.3,675 726.7,678.3 716.7,676.7 708.3,683.3 701.7,685 701.7,680 703.3,673.3 695,668.3 686.7,665 675,655" fill="#FEE391" stroke="#FEE391"/>
<polygon points="741.7,630 751.7,630 755,638.3 763.3,645 771.7,651.7 773.3,663.3 778.3,668.3 788.3,663.3 796.7,661.7 803.3,668.3 808.3,676.7 803.3,686.7 795,691.7 786.7,696.7 780,700 775,696.7 765,695 758.3,701.7 751.7,703.3 741.7,703.3 735,701.7 728.3,703.3 723.3,701.7 721.7,695 726.7,688.3 733.3,675 736.7,668.3 743.3,661.7 750,656.7 746.7,651.7 740,648.3 743.3,636.7" fill="#FFFACA" stroke="#FFFACA"/>
<polygon points="750,633.3 751.7,625 760,621.7 773.3,620 783.3,623.3 786.7,633.3 780,636.7 775,640 768.3,643.3 760,641.7 751.7,638.3" fill="#F27E1B" stroke="#F27E1B"/>
<polygon points="760,643.3 768.3,643.3 775,640 783.3,638.3 790,641.7 800,643.3 811.7,641.7 818.3,648.3 826.7,653.3 825,661.7 820,668.3 813.3,675 808.3,676.7 803.3,668.3 796.7,661.7 788.3,663.3 778.3,668.3 773.3,663.3 771.7,651.7 763.3,645" fill="#FECE65" stroke="#FECE65"/>
<polygon points="835,635 840,630 841.7,621.7 855,620 868.3,630 873.3,636.7 881.7,640 880,645 870,646.7 866.7,655 868.3,666.7 863.3,665 856.7,658.3 846.7,655 840,651.7 835,645" fill="#FECE65" stroke="#FECE65"/>
<polygon points="786.7,696.7 795,691.7 803.3,686.7 808.3,693.3 813.3,696.7 818.3,700 811.7,710 806.7,710 801.7,705 795,703.3 788.3,705" fill="#FFFFE5" stroke="#FFFFE5"/>
<polygon points="840,671.7 845,663.3 846.7,655 856.7,658.3 863.3,665 868.3,666.7 876.7,673.3 881.7,680 880,688.3 871.7,691.7 863.3,696.7 853.3,695 843.3,698.3 845,708.3 841.7,716.7 835,715 836.7,703.3 833.3,700 826.7,703.3 821.7,700 818.3,700 821.7,691.7 830,686.7 833.3,678.3" fill="#FFFACA" stroke="#FFFACA"/>
<polygon points="778.3,706.7 783.3,701.7 790,705 795,703.3 801.7,705 806.7,710 811.7,710 818.3,700 821.7,700 826.7,703.3 833.3,700 836.7,703.3 835,715 833.3,726.7 826.7,731.7 820,731.7 818.3,736.7 811.7,740 805,745 798.3,740 795,736.7 783.3,730 780,725 773.3,721.7 778.3,715" fill="#FFF0AE" stroke="#FFF0AE"/>
<polygon points="796.7,713.3 806.7,711.7 810,720 808.3,730 801.7,731.7 795,723.3" fill="#FFFFE5" stroke="#FFFFE5"/>
<polygon points="843.3,698.3 853.3,695 863.3,696.7 871.7,691.7 880,688.3 881.7,696.7 888.3,703.3 890,715 880,718.3 870,716.7 863.3,725 861.7,731.7 853.3,726.7 848.3,718.3 845,708.3" fill="#FFFACA" stroke="#FFFACA"/>
<polygon points="868.3,630 863.3,620 903.3,620 910,640 930,648.3 930,660 916.7,671.7 901.7,670 898.3,665 886.7,665 880,671.7 876.7,673.3 868.3,666.7 866.7,655 870,646.7 880,645 881.7,640 873.3,636.7" fill="#FFFACA" stroke="#FFFACA"/>
<polygon points="886.7,710 890,685 898.3,675 916.7,671.7 930,660 933.3,720 913.3,713.3 896.7,708.3" fill="#FEE391" stroke="#FEE391"/>
<polygon points="746.7,723.3 753.3,711.7 766.7,711.7 773.3,721.7 780,725 773.3,730 770,736.7 763.3,733.3 753.3,730" fill="#FFF0AE" stroke="#FFF0AE"/>
<polygon points="718.3,733.3 723.3,723.3 735,713.3 746.7,716.7 746.7,723.3 753.3,730 763.3,733.3 770,736.7 770.8,746.7 770.8,761.7 766.7,760 758.3,765 751.7,761.7 753.3,753.3 750,746.7 738.3,746.7 730,751.7 721.7,746.7" fill="#FFFFE5" stroke="#FFFFE5"/>
<polygon points="675,746.7 688.3,750 698.3,743.3 701.7,735 713.3,730 718.3,733.3 721.7,746.7 730,751.7 738.3,746.7 740,753.3 735,756.7 730,763.3 728.3,771.7 720,776.7 718.3,786.7 721.7,803.3 713.3,805 705,810 695,811.7 690,803.3 685,795 675,788.3" fill="#FFFACA" stroke="#FFFACA"/>
<polygon points="665,736.7 670,730 675,728.3 680,736.7 685,736.7 690,730 700,723.3 710,713.3 718.3,703.3 721.7,695 723.3,701.7 728.3,703.3 735,701.7 735,713.3 723.3,723.3 713.3,730 701.7,735 698.3,743.3 688.3,750 675,746.7" fill="#FFFACA" stroke="#FFFACA"/>
<polygon points="770.8,736.7 773.3,730 780,728.3 783.3,730 795,736.7 796.7,746.7 788.3,741.7 781.7,748.3 783.3,755 793.3,758.3 795,766.7 786.7,768.3 780,770 773.3,766.7 770.8,761.7 773.3,746.7" fill="#FEB642" stroke="#FEB642"/>
<polygon points="673.3,803.3 680,805 695,811.7 705,810 713.3,805 721.7,803.3 725,813.3 730,821.7 731.7,833.3 728.3,845 733.3,848.3 730,853.3 720,851.7 716.7,843.3 710,846.7 703.3,843.3 700,853.3 690,853.3 683.3,856.7 673.3,846.7" fill="#FFF0AE" stroke="#FFF0AE"/>
<polygon points="750,820 755,810 758.3,800 760,790 765,791.7 768.3,798.3 776.7,803.3 780,810 773.3,811.7 766.7,810 763.3,818.3 761.7,828.3 756.7,826.7" fill="#FEB642" stroke="#FEB642"/>
<polygon points="773.3,811.7 780,810 783.3,803.3 793.3,800 800,805 795,810 793.3,818.3 798.3,823.3 795,828.3 788.3,826.7 783.3,821.7 776.7,815" fill="#FEE391" stroke="#FEE391"/>
<polygon points="790,795 795,786.7 800,780 811.7,778.3 816.7,783.3 813.3,793.3 806.7,796.7 806.7,805 800,805 793.3,800" fill="#FFFACA" stroke="#FFFACA"/>
<polygon points="851.7,786.7 865,775 868.3,763.3 880,746.7 888.3,736.7 898.3,730 905,723.3 896.7,708.3 913.3,713.3 933.3,720 933.3,796.7 918.3,790 910,791.7 906.7,803.3 898.3,806.7 890,805 881.7,810 875,810 871.7,815 865,811.7 863.3,800 866.7,790 860,783.3" fill="#FFF0AE" stroke="#FFF0AE"/>
<polygon points="875,796.7 880,780 893.3,771.7 910,770 923.3,775 921.7,785 910,791.7 906.7,803.3 898.3,806.7 890,805 881.7,810 876.7,806.7" fill="#FFFACA" stroke="#FFFACA"/>
<polygon points="895,753.3 903.3,748.3 916.7,746.7 926.7,740 930,726.7 935,726.7 935,770 923.3,761.7 913.3,758.3 901.7,761.7 896.7,760" fill="#F27E1B" stroke="#F27E1B"/>
<polygon points="846.7,826.7 856.7,818.3 865,813.3 871.7,815 873.3,826.7 870,838.3 876.7,846.7 880,853.3 871.7,860 863.3,865 853.3,858.3 853.3,846.7 856.7,836.7 851.7,831.7" fill="#FFFACA" stroke="#FFFACA"/>
<polygon points="890,855 898.3,851.7 901.7,838.3 908.3,836.7 911.7,846.7 920,845 925,853.3 920,860 918.3,866.7 910,863.3 901.7,870 896.7,866.7" fill="#FECE65" stroke="#FECE65"/>
<polygon points="827.3,581.3 846,576 847.3,554.7 890,554.7 888.7,573.3 884.7,584 883.3,593.3 886,598.7 874,598.7 863.3,590.7 855.3,596 848.7,601.3 827.3,604" fill="#FFF0AE" stroke="#FFF0AE"/>
<polygon points="827.3,604 848.7,601.3 855.3,596 863.3,590.7 870,600 874,598.7 867.3,605.3 852.7,613.3 846,618.7 848.7,624 856.7,626.7 866,629.3 872.7,636 880.7,638.7 880.7,642.7 868.7,646.7 867.3,653.3 868.7,665.3 862,666.7 843.3,653.3 835.3,650.7 827.3,640" fill="#FECE65" stroke="#FECE65"/>
<polygon points="846,618.7 852.7,613.3 867.3,605.3 874,598.7 886,598.7 892.7,612 900.7,618.7 900.7,628 890,629.3 874,628 866,629.3 856.7,626.7 848.7,624" fill="#FFFACA" stroke="#FFFACA"/>
<polygon points="843.3,653.3 862,666.7 870,666.7 876.7,670.7 880.7,670.7 880.7,680 876.7,688 864.7,692 856.7,694.7 843.3,697.3 842,686.7 844.7,666.7 838,660" fill="#FFFACA" stroke="#FFFACA"/>
<polygon points="866,629.3 874,628 890,629.3 900.7,628 906,637.3 912.7,644 907.3,650.7 902,656 899.3,662.7 888.7,665.3 880.7,670.7 876.7,670.7 870,666.7 867.3,653.3 868.7,646.7 880.7,642.7 880.7,638.7 872.7,636" fill="#FFFACA" stroke="#FFFACA"/>
<polygon points="883.3,593.3 884.7,584 888.7,573.3 890,554.7 923.3,554.7 922,568 924.7,577.3 915.3,584 904.7,588 894,592" fill="#FFFFE5" stroke="#FFFFE5"/>
<polygon points="942,593.3 943.3,590.7 955.3,585.3 963.3,584 971.3,586.7 964.7,598.7 970,601.3 986,600 990,610.7 987.3,632 995.3,640 1003.3,649.3 1010,646.7 1011.3,661.3 1002,670.7 995.3,673.3 983.3,672 979.3,666.7 968.7,665.3 962,658.7 962,645.3 952.7,642.7 948.7,637.3 950,629.3 955.3,620 958,613.3 950,605.3 940.7,604 935.3,609.3 934,606.7 936.7,600" fill="#FFF0AE" stroke="#FFF0AE"/>
<polygon points="958,554.7 990,554.7 987.3,568 998,576 996.7,584 984.7,585.3 971.3,586.7 963.3,584 955.3,585.3 958,577.3 958,566.7" fill="#FFFACA" stroke="#FFFACA"/>
<polygon points="900.7,618.7 904.7,613.3 910,616 920.7,618.7 928.7,616 935.3,609.3 940.7,604 950,605.3 958,613.3 955.3,620 950,629.3 948.7,637.3 952.7,642.7 962,645.3 962,649.3 958,652 947.3,649.3 936.7,649.3 926,650.7 912.7,644 906,637.3 900.7,628" fill="#FFFFE5" stroke="#FFFFE5"/>
<polygon points="886,598.7 883.3,593.3 894,592 904.7,588 915.3,584 922,584 920.7,592 910,596 903.3,600 907.3,606.7 904.7,613.3 900.7,618.7 892.7,612" fill="#FFF0AE" stroke="#FFF0AE"/>
<polygon points="903.3,600 910,596 920.7,592 922,584 928.7,586.7 940.7,582.7 942,593.3 936.7,600 934,606.7 928.7,616 920.7,618.7 910,616 904.7,613.3 907.3,606.7" fill="#FECE65" stroke="#FECE65"/>
<polygon points="922,568 923.3,554.7 958,554.7 958,566.7 950,572 944.7,574.7 939.3,577.3 924.7,577.3" fill="#FEB642" stroke="#FEB642"/>
<polygon points="940.7,582.7 936.7,584 939.3,577.3 944.7,574.7 950,572 958,577.3 955.3,585.3 943.3,590.7 942,593.3" fill="#FECE65" stroke="#FECE65"/>
<polygon points="962,658.7 968.7,665.3 979.3,666.7 983.3,672 995.3,673.3 1002,670.7 1011.3,661.3 1014,686.7 1008.7,690.7 1015.3,713.3 1007.3,716 1000.7,716 992.7,722.7 987.3,724 987.3,717.3 979.3,710.7 982,704 980.7,698.7 986,696 990,688 979.3,680 974,673.3 968.7,672" fill="#FFF0AE" stroke="#FFF0AE"/>
<polygon points="899.3,662.7 902,656 907.3,650.7 912.7,644 926,650.7 936.7,649.3 947.3,649.3 944.7,656 940.7,665.3 946,673.3 952.7,674.7 963.3,673.3 968.7,672 974,673.3 979.3,680 990,688 986,696 980.7,698.7 982,704 979.3,710.7 968.7,712 958,714.7 950,721.3 944.7,718.7 940.7,717.3 930,721.3 922,714.7 912.7,710.7 896.7,706.7 888.7,709.3 886,701.3 887.3,686.7 890,676 888.7,665.3" fill="#FEE391" stroke="#FEE391"/>
<polygon points="922,676 928.7,672 940.7,670.7 946,673.3 952.7,674.7 963.3,673.3 968.7,672 974,673.3 976.7,680 974,688 968.7,693.3 963.3,701.3 955.3,708 944.7,708 936.7,706.7 926,698.7 920.7,686.7" fill="#FFF0AE" stroke="#FFF0AE"/>
<polygon points="936.7,692 944.7,689.3 951.3,688 955.3,693.3 954,700 947.3,698.7 942,694.7" fill="#FECE65" stroke="#FECE65"/>
<polygon points="843.3,697.3 856.7,694.7 864.7,692 876.7,688 880.7,680 880.7,670.7 883.3,676 891.3,673.3 890,676 887.3,686.7 886,701.3 888.7,709.3 891.3,714.7 883.3,717.3 872.7,717.3 866,722.7 860.7,732 856.7,725.3 847.3,714.7" fill="#FFFACA" stroke="#FFFACA"/>
<polygon points="891.3,714.7 888.7,709.3 896.7,706.7 912.7,710.7 922,714.7 930,721.3 928.7,733.3 915.3,744 904.7,746.7 899.3,752 895.3,760 883.3,760 880.7,749.3 886,740 899.3,733.3 906,724 902,718.7" fill="#FEE391" stroke="#FEE391"/>
<polygon points="964.7,598.7 970,592 971.3,586.7 984.7,585.3 994,584.7 995.3,588 987.3,590 986,600 970,601.3" fill="#FE9929" stroke="#FE9929"/>
<polygon points="1004.7,609.3 1011.3,608 1015.3,614.7 1022,616 1024.7,622.7 1030,626.7 1035.3,634.7 1035.3,661.3 1030,658.7 1024.7,650.7 1022,644 1015.3,640 1019.3,634.7 1016.7,626.7 1008.7,621.3" fill="#FECE65" stroke="#FECE65"/>
<polygon points="988,632 995.3,629.3 998,621.3 1003.3,618.7 1004.7,609.3 1008.7,621.3 1016.7,626.7 1019.3,634.7 1023.3,642.7 1022,644 1015.3,640 1010,646.7 1003.3,649.3 995.3,640" fill="#FEB642" stroke="#FEB642"/>
<polygon points="930,728 932.7,721.3 940.7,717.3 944.7,718.7 946,724 950,721.3 958,714.7 959.3,726.7 967.3,733.3 971.3,742.7 970,749.3 950,746.7 934,750.7 920.7,760 910,756 903.3,760 895.3,757.3 896.7,753.3 910,748 928.7,744" fill="#F27E1B" stroke="#F27E1B"/>
<polygon points="920.7,760 934,750.7 950,746.7 970,749.3 972.7,754.7 968.7,762.7 920.7,762.7" fill="#FEB642" stroke="#FEB642"/>
<polygon points="630,814 640,806 644,798 658,796 663,800 665,810 669,812 674,808 674,822 670,836 670,844 656,845 653,835 648,836 642,832 638,826 630,822" fill="#FFFACA" stroke="#FFFACA"/>
<polygon points="674,808 688,802 695,812 700,810 710,805 722,801 726,806 728,814 732,818 728,832 730,840 735,842 734,849 726,849 722,842 718,850 704,852 704,842 698,844 696,856 686,857 680,855 676,848 670,844 670,836 674,822" fill="#FFF0AE" stroke="#FFF0AE"/>
<polygon points="612,826 620,819 625,824 630,822 638,826 642,832 648,836 653,835 650,842 646,852 640,858 636,854 628,860 624,860 624,852 618,848 618,840 613,837" fill="#FEE391" stroke="#FEE391"/>
<polygon points="666,736 674,733 679,738 684,749 690,749 698,744 700,736 708,735 712,730 720,728 720,734 720,744 726,748 728,752 732,758 730,768 720,778 718,786 719,792 722,801 710,805 700,810 696,811 702,792 702,784 696,783 688,780 682,782 676,780 668,765 660,766 661,760 662,752" fill="#FFFACA" stroke="#FFFACA"/>
<polygon points="720,734 730,716 736,713 748,716 746,726 758,730 768,736 771,746 770,760 764,760 754,764 749,756 751,750 750,746 740,747 739,752 732,758 728,752 726,748 720,744" fill="#FFFFE5" stroke="#FFFFE5"/>
<polygon points="778,806 784,802 794,800 800,802 806,806 808,816 804,826 800,828 794,828 788,824 780,820 776,814 768,812 776,810" fill="#FEE391" stroke="#FEE391"/>
<polygon points="760,791 766,790 767,798 778,806 776,810 768,812 764,818 762,829 758,830 751,820 754,812 758,806 758,798" fill="#FEB642" stroke="#FEB642"/>
<polygon points="864,800 900,800 902,804 890,806 880,809 872,815 870,822 872,830 869,840 878,846 881,854 874,860 866,865 854,858 852,850 858,842 856,834 848,832 848,823 858,818 862,806" fill="#FFFACA" stroke="#FFFACA"/>
<polygon points="904,837 909,837 910,845 916,847 921,845 924,853 920,860 916,868 913,862 906,866 899,871 896,864 891,857 894,854 900,852 902,845" fill="#FECE65" stroke="#FECE65"/>
<polygon points="872,894 878,889 886,889 892,886 895,894 897,899 893,909 887,912 886,918 878,920 872,918 868,914 869,908 874,904 873,898" fill="#FECE65" stroke="#FECE65"/>
<polygon points="885,863 888,868 891,874 892,886 886,889 878,889 872,894 866,889 860,882 867,879 874,876 878,869" fill="#FEB642" stroke="#FEB642"/>
<polygon points="853,921 862,918 872,918 873,928 872,934 858,934 856,926" fill="#FEB642" stroke="#FEB642"/>
<polygon points="873,928 878,920 886,918 890,924 896,932 900,934 900,965 868,965 868,932" fill="#FFFFE5" stroke="#FFFFE5"/>
<polygon points="916,868 922,858 929,854 934,864 942,874 946,880 950,886 948,894 942,896 934,898 928,892 924,886 916,884 910,880 910,878" fill="#FFFFE5" stroke="#FFFFE5"/>
<polygon points="928,902 934,898 942,896 948,894 950,900 949,908 948,918 942,924 936,926 930,924 924,912 923,908" fill="#FFFACA" stroke="#FFFACA"/>
<polygon points="944,828 952,826 966,828 980,830 984,835 976,840 973,847 976,854 974,860 966,866 965,858 958,850 948,850 942,846 945,840 942,836" fill="#FFFACA" stroke="#FFFACA"/>
<polygon points="965,858 966,866 960,872 952,876 946,880 950,886 958,888 962,886 970,888 976,880 974,870 974,860" fill="#FFF0AE" stroke="#FFF0AE"/>
<polygon points="973,847 979,850 990,847 1000,845 1007,849 1009,842 1018,842 1030,848 1034,858 1030,862 1022,868 1020,878 1018,884 1012,896 983,900 976,892 970,888 976,880 974,870 974,860 976,854" fill="#FFFFE5" stroke="#FFFFE5"/>
<polygon points="966,903 970,901 975,902 976,905 973,910 967,910 965,906" fill="#FEB642" stroke="#FEB642"/>
<polygon points="929,800 930,812 928,822 926,838 930,834 940,836 943,830 952,826 966,828 968,820 966,812 970,800 962,790 940,790" fill="#FFFFE5" stroke="#FFFFE5"/>
<polygon points="926,800 948,800 946,808 936,808 928,806" fill="#FEE391" stroke="#FEE391"/>
<polygon points="958,800 982,800 980,808 972,808 962,806" fill="#FECE65" stroke="#FECE65"/>
<polygon points="970,800 966,812 968,820 966,828 980,830 984,835 976,840 973,847 979,850 990,847 1000,845 1007,849 1009,842 1010,834 1014,822 1019,812 1026,800 1020,790 980,790" fill="#FFFFE5" stroke="#FFFFE5"/>
<polygon points="1014,822 1019,812 1030,810 1044,815 1050,820 1050,834 1040,840 1034,848 1030,848 1018,842 1009,842 1010,834" fill="#FFFACA" stroke="#FFFACA"/>
<polygon points="913,783 930,774 948,779 960,774 967,783 969,807 960,811 951,793 944,807 930,809 923,790" fill="#FEE391" stroke="#FEE391"/>
<polygon points="1019,371 1033,354 1061,347 1078,337 1089,319 1103,323 1116,337 1123,364 1113,378 1116,392 1096,406 1089,399 1064,402 1054,389 1033,392 1026,382" fill="#FEB642" stroke="#FEB642"/>
<polygon points="1012,406 1033,392 1054,389 1064,402 1064,420 1082,423 1089,441 1099,454 1082,479 1064,475 1047,461 1030,434" fill="#FE9929" stroke="#FE9929"/>
<polygon points="1120,510 1165,512 1165,540 1120,545" fill="#FFF0AE" stroke="#FFF0AE"/>
<polygon points="1090,267 1098,263 1106,261 1114,264 1118,271 1130,274 1140,270 1150,271 1157,269 1166,262 1176,254 1190,244 1198,238 1202,249 1205,246 1204,238 1207,232 1211,223 1218,222 1220,216 1218,208 1220,198 1226,192 1232,188 1234,182 1239,176 1232,168 1226,161 1218,159 1212,164 1200,167 1190,165 1183,166 1174,168 1168,164 1165,156 1162,143 1150,137 1146,142 1140,141 1130,134 1134,132 1142,121 1138,112 1090,112 990,200 990,264" fill="#FFF0AE" stroke="#FFF0AE"/>
<polygon points="1092,267 1098,263 1106,261 1114,264 1118,271 1130,274 1140,270 1150,271 1157,269 1165,276 1169,284 1177,279 1183,280 1183,284 1170,287 1170,290 1172,298 1166,300 1163,308 1156,305 1149,306 1142,303 1140,309 1147,312 1150,322 1149,336 1153,347 1146,344 1138,338 1130,330 1122,322 1110,314 1102,313 1095,312 1098,300 1100,286 1101,280 1098,274" fill="#FECE65" stroke="#FECE65"/>
<polygon points="1086,318 1090,320 1098,326 1106,336 1114,346 1122,360 1118,368 1110,380 1118,398 1122,412 1110,420 1090,424 1070,412 1056,400 1054,384 1046,380 1030,394 1026,384 1021,372 1030,364 1034,356 1038,349 1048,349 1060,350 1070,343 1078,338 1084,328" fill="#FEB642" stroke="#FEB642"/>
<polygon points="1095,312 1110,314 1122,322 1130,330 1138,338 1146,344 1153,347 1172,341 1176,350 1181,358 1178,366 1186,370 1182,376 1174,382 1162,384 1150,388 1142,394 1130,398 1118,398 1110,380 1118,368 1122,360 1114,346 1106,336 1098,326 1090,320 1086,318" fill="#FE9929" stroke="#FE9929"/>
<polygon points="1238,175 1262,170 1274,182 1276,192 1279,196 1279,204 1282,206 1298,206 1316,210 1328,220 1346,228 1345,236 1348,243 1322,244 1320,254 1324,266 1318,278 1290,288 1264,286 1250,294 1240,310 1230,316 1220,316 1200,314 1192,302 1190,296 1172,298 1170,290 1169,284 1165,276 1157,269 1166,262 1176,254 1190,244 1198,238 1202,249 1205,246 1204,238 1207,232 1211,223 1218,222 1220,216 1218,208 1220,198 1226,192 1232,188 1234,182 1239,176" fill="#E1640E" stroke="#E1640E"/>
<polygon points="1221,270 1232,268 1250,259 1278,249 1288,254 1290,264 1293,268 1282,274 1274,278 1284,288 1266,286 1254,290 1244,302 1238,310 1232,314 1230,304 1224,298 1215,300 1212,296 1218,290 1220,280" fill="#FEB642" stroke="#FEB642"/>
<polygon points="1230,316 1240,310 1250,294 1264,286 1284,288 1298,288 1310,286 1318,278 1324,265 1346,264 1354,278 1368,270 1382,258 1386,254 1394,249 1408,246 1420,238 1434,238 1438,244 1438,254 1436,262 1410,264 1398,272 1398,278 1386,282 1370,280 1358,278 1344,278 1342,282 1350,290 1360,296 1368,300 1358,308 1350,310 1340,320 1336,322 1330,304 1322,302 1310,310 1306,320 1292,340 1288,346 1278,350 1274,346 1270,338 1260,338 1260,330 1256,324 1244,322" fill="#CC4C02" stroke="#CC4C02"/>
<polygon points="1342,280 1350,278 1358,278 1370,280 1386,282 1398,278 1398,272 1410,264 1436,262 1424,272 1420,280 1418,290 1414,300 1408,306 1402,314 1402,322 1396,330 1382,327 1370,324 1362,329 1348,334 1336,322 1340,320 1350,310 1358,308 1368,300 1360,296 1350,290 1342,282" fill="#AA3C03" stroke="#AA3C03"/>
<polygon points="1330,300 1340,299 1356,298 1368,300 1358,308 1350,310 1336,312 1330,308" fill="#FEB642" stroke="#FEB642"/>
<polygon points="1290,348 1292,340 1306,320 1310,310 1322,304 1330,306 1336,322 1348,334 1354,338 1359,350 1360,368 1346,362 1336,352 1326,356 1310,358 1302,365 1298,358 1292,352" fill="#882F05" stroke="#882F05"/>
<polygon points="1140,308.3 1141.7,303.3 1155,305 1163.3,310 1166.7,300 1173.3,296.7 1171.7,290 1170,280 1193.3,278.3 1215,280 1215,290 1213.3,298.3 1223.3,301.7 1231.7,311.7 1230,315 1215,315 1203.3,316.7 1193.3,318.3 1185,325 1178.3,331.7 1171.7,340 1153.3,346.7 1148.3,333.3 1150,325 1146.7,315" fill="#E1640E" stroke="#E1640E"/>
<polygon points="1215,290 1216.7,283.3 1250,283.3 1250,290 1243.3,300 1241.7,306.7 1231.7,311.7 1223.3,301.7 1213.3,298.3" fill="#FEB642" stroke="#FEB642"/>
<polygon points="1231.7,311.7 1241.7,306.7 1243.3,300 1250,294 1264,286 1284,288 1298,288 1310,286 1318,278 1322,282 1330,290 1330,300 1323.3,303.3 1313.3,308.3 1306.7,313.3 1305,325 1298.3,333.3 1290,336.7 1288.3,341.7 1280,351.7 1273.3,348.3 1268.3,340 1260,338.3 1258.3,325 1250,321.7 1241.7,323.3 1233.3,320 1230,315" fill="#CC4C02" stroke="#CC4C02"/>
<polygon points="1171.7,340 1178.3,331.7 1185,325 1193.3,318.3 1203.3,316.7 1215,315 1230,315 1233.3,320 1241.7,323.3 1250,321.7 1258.3,325 1260,338.3 1246.7,340 1245,346.7 1236.7,351.7 1233.3,361.7 1235,368.3 1230,371.7 1223.3,363.3 1216.7,361.7 1210,370 1206.7,365 1203.3,360 1193.3,358.3 1186.7,353.3 1180,351.7 1176.7,348.3" fill="#F27E1B" stroke="#F27E1B"/>
<polygon points="1178.3,351.7 1186.7,353.3 1193.3,358.3 1203.3,360 1206.7,365 1208.3,375 1203.3,381.7 1198.3,375 1193.3,371.7 1186.7,368.3 1180,363.3" fill="#FEE391" stroke="#FEE391"/>
<polygon points="1210,370 1216.7,361.7 1223.3,363.3 1230,371.7 1231.7,376.7 1223.3,375 1216.7,373.3" fill="#FEE391" stroke="#FEE391"/>
<polygon points="1233.3,361.7 1236.7,351.7 1245,346.7 1246.7,340 1260,338.3 1268.3,340 1273.3,348.3 1278.3,355 1276.7,363.3 1271.7,373.3 1275,383.3 1268.3,388.3 1260,385 1250,386.7 1241.7,383.3 1233.3,381.7 1231.7,376.7 1230,371.7 1235,368.3" fill="#AA3C03" stroke="#AA3C03"/>
<polygon points="1288.3,341.7 1290,336.7 1298.3,333.3 1305,325 1306.7,313.3 1313.3,308.3 1323.3,303.3 1330,306.7 1341.7,311.7 1336.7,320 1338.3,328.3 1350,331.7 1355,333.3 1355,356.7 1345,366.7 1336.7,363.3 1333.3,353.3 1323.3,355 1310,358.3 1308.3,365 1301.7,365 1296.7,353.3 1293.3,346.7" fill="#882F05" stroke="#882F05"/>
<polygon points="1330,300 1350,300 1350,311.7 1341.7,311.7 1330,306.7" fill="#FEB642" stroke="#FEB642"/>
<polygon points="1336.7,320 1341.7,311.7 1355,311.7 1355,333.3 1350,331.7 1338.3,328.3" fill="#CC4C02" stroke="#CC4C02"/>
<polygon points="1270,376.7 1271.7,373.3 1276.7,363.3 1278.3,355 1280,351.7 1288.3,341.7 1293.3,346.7 1296.7,353.3 1301.7,365 1308.3,365 1310,358.3 1323.3,355 1333.3,353.3 1336.7,363.3 1345,366.7 1355,363.3 1355,396.7 1340,396.7 1333.3,390 1325,383.3 1320,393.3 1308.3,401.7 1305,406.7 1283.3,406.7 1278.3,396.7 1281.7,390 1275,383.3" fill="#662506" stroke="#662506"/>
<polygon points="1211.7,376.7 1216.7,373.3 1223.3,375 1231.7,376.7 1233.3,381.7 1241.7,383.3 1250,386.7 1260,385 1268.3,388.3 1275,383.3 1281.7,390 1278.3,396.7 1283.3,403.3 1291.7,416.7 1283.3,423.3 1270,421.7 1258.3,413.3 1250,418.3 1243.3,426.7 1233.3,436.7 1228.3,428.3 1231.7,425 1226.7,416.7 1221.7,406.7 1225,401.7 1216.7,393.3" fill="#CC4C02" stroke="#CC4C02"/>
<polygon points="1096.7,313.3 1116.7,318.3 1133.3,331.7 1143.3,343.3 1153.3,346.7 1171.7,340 1180,356.7 1176.7,365 1186.7,368.3 1183.3,376.7 1173.3,383.3 1166.7,390 1158.3,403.3 1158.3,413.3 1151.7,418.3 1150,420 1138.3,423.3 1125,436.7 1116.7,445 1100,456.7 1090,456.7 1090,313.3" fill="#FE9929" stroke="#FE9929"/>
<polygon points="1090,333.3 1110,335 1120,348.3 1121.7,363.3 1113.3,373.3 1110,383.3 1116.7,393.3 1116.7,401.7 1103.3,411.7 1090,406.7" fill="#FEB642" stroke="#FEB642"/>
<polygon points="1128.3,396.7 1138.3,393.3 1146.7,386.7 1156.7,385 1166.7,390 1158.3,403.3 1156.7,413.3 1150,416.7 1138.3,421.7 1133.3,413.3 1126.7,406.7" fill="#FEB642" stroke="#FEB642"/>
<polygon points="1090,413.3 1103.3,411.7 1116.7,401.7 1128.3,396.7 1126.7,406.7 1130,413.3 1120,423.3 1108.3,428.3 1090,433.3" fill="#FEE391" stroke="#FEE391"/>
<polygon points="1186.7,368.3 1193.3,371.7 1198.3,375 1203.3,381.7 1208.3,375 1211.7,376.7 1216.7,393.3 1203.3,396.7 1193.3,403.3 1185,406.7 1186.7,415 1171.7,416.7 1161.7,423.3 1151.7,418.3 1158.3,413.3 1158.3,403.3 1166.7,390 1173.3,383.3 1183.3,376.7" fill="#E1640E" stroke="#E1640E"/>
<polygon points="1185,406.7 1193.3,403.3 1203.3,396.7 1216.7,393.3 1225,401.7 1221.7,406.7 1223.3,415 1213.3,416.7 1206.7,423.3 1200,418.3 1186.7,415" fill="#882F05" stroke="#882F05"/>
<polygon points="1183.3,418.3 1186.7,415 1200,418.3 1206.7,423.3 1213.3,416.7 1223.3,415 1226.7,416.7 1231.7,425 1228.3,428.3 1216.7,428.3 1203.3,426.7 1193.3,431.7 1183.3,433.3" fill="#F27E1B" stroke="#F27E1B"/>
<polygon points="1183.3,433.3 1193.3,431.7 1203.3,426.7 1216.7,428.3 1228.3,428.3 1233.3,436.7 1216.7,446.7 1203.3,453.3 1196.7,463.3 1183.3,460 1180,455 1186.7,443.3" fill="#E1640E" stroke="#E1640E"/>
<polygon points="1151.7,418.3 1161.7,423.3 1171.7,416.7 1183.3,418.3 1183.3,433.3 1186.7,443.3 1180,455 1170,450 1158.3,455 1148.3,451.7 1141.7,450 1153.3,443.3 1150,436.7 1155,428.3" fill="#CC4C02" stroke="#CC4C02"/>
<polygon points="1138.3,423.3 1150,420 1155,428.3 1150,436.7 1141.7,433.3" fill="#FFF0AE" stroke="#FFF0AE"/>
<polygon points="1141.7,450 1148.3,451.7 1158.3,455 1170,450 1180,455 1183.3,460 1196.7,463.3 1173.3,466.7 1160,473.3 1150,476.7 1141.7,481.7 1126.7,491.7 1123.3,481.7 1138.3,478.3 1140,473.3 1126.7,468.3 1136.7,456.7" fill="#FECE65" stroke="#FECE65"/>
<polygon points="1169,284 1177,279 1183,280 1183,284 1170,287" fill="#FECE65" stroke="#FECE65"/>
<polygon points="1058,398 1092,393 1096,442 1084,440 1078,436 1066,424 1060,412" fill="#FE9929" stroke="#FE9929"/>
<polygon points="1078,434 1086,420 1086,400 1092,395 1098,402 1102,410 1112,404 1126,398 1130,410 1120,420 1108,426 1100,430 1092,432 1086,438" fill="#FEE391" stroke="#FEE391"/>
<polygon points="1128,466 1140,462 1142,474 1132,480" fill="#FECE65" stroke="#FECE65"/>
<polygon points="960,772 966,768 980,772 1000,764 1006,768 1004,778 1010,788 1000,796 990,806 980,808 970,810 964,798 966,788 960,780" fill="#FECE65" stroke="#FECE65"/>
<polygon points="1136,700 1152,704 1152,734 1139,736 1134,733 1130,724" fill="#FFFACA" stroke="#FFFACA"/>
<polygon points="370,338 374,338 376,347 373,348" fill="#D9D9D9"/>
<polygon points="325,408 333,407 334,412 341,409 341,411 326,411" fill="#D9D9D9"/>
<polygon points="250,327 256,325 258,328 254,331" fill="#D9D9D9"/>
<polygon points="254,333 262,330 266,332 263,336 256,336" fill="#D9D9D9"/>
<polygon points="174,462 180,457 190,454 195,456 188,460 182,464 177,464" fill="#D9D9D9"/>
<polygon points="110,480 112,474 118,475 117,480 114,481" fill="#D9D9D9"/>
<polygon points="167,513 171,513 171,518 168,518" fill="#D9D9D9"/>
<polygon points="186,521 190,521 190,528 187,527" fill="#D9D9D9"/>
<polygon points="608,457 613,456 619,457 618,462 609,463" fill="#D9D9D9"/>
<polygon points="685.8,493.3 693.3,490 700,483.3 705.8,483.3 707.5,490 713.3,495 711.7,500 700,503.3 690,504.2 684.2,500" fill="#D9D9D9"/>
<polygon points="848.3,576.7 856.7,569.2 865,570 863.3,576.7 856.7,583.3 852.5,587.5 846.7,583.3" fill="#D9D9D9"/>
<polygon points="923.3,533.3 928.3,526.7 935,528.3 943.3,531.7 951.7,535 956.7,540 961.7,548.3 960,560 953.3,561.7 946.7,558.3 936.7,556.7 933.3,548.3 926.7,543.3 922.5,538.3" fill="#D9D9D9"/>
<polygon points="925,577.5 936.7,577.5 938.3,581.7 933.3,585 926.7,583.3" fill="#D9D9D9"/>
<polygon points="990,556.7 993.3,555 1000,553.3 1000,560 1006.7,558.3 1014.2,555.8 1011.7,560 1003.3,565 996.7,570 990,573.3 988.3,565" fill="#D9D9D9"/>
<polygon points="978.3,765 983.3,760 993.3,761.7 996.7,766.7 986.7,770 980,773.3" fill="#D9D9D9"/>
<polygon points="1020,736.7 1026.7,721.7 1035,715 1040,716.7 1045,721.7 1060,726.7 1058.3,735 1065,743.3 1068.3,755 1060,758.3 1048.3,765 1040,765 1033.3,756.7 1026.7,750" fill="#D9D9D9"/>
<polygon points="1086.7,728.3 1098.3,720 1108.3,725 1121.7,728.3 1133.3,735 1140,740 1140,770 1111.7,778.3 1096.7,775 1095,766.7 1098.3,758.3 1110,753.3 1110,736.7 1105,735 1098.3,741.7 1091.7,745 1090,736.7" fill="#D9D9D9"/>
<polygon points="1036.7,686.7 1046.7,683.3 1056.7,682.5 1060,686.7 1056.7,690 1046.7,691.7 1038.3,693.3" fill="#D9D9D9"/>
<polygon points="940,665 946.7,651.7 958.3,650 963.3,661.7 970,668.3 966.7,673.3 953.3,675 943.3,671.7" fill="#D9D9D9"/>
<polygon points="870,663.3 890,661.7 898.3,666.7 891.7,673.3 870,675" fill="#D9D9D9"/>
<polygon points="934.2,698.3 941.7,695.8 944.2,703.3 936.7,706.7" fill="#D9D9D9"/>
<polygon points="980,696.7 988.3,695 990.8,703.3 983.3,705" fill="#D9D9D9"/>
<polygon points="958.3,715 970,710 980,711.7 986.7,720 983.3,726.7 973.3,728.3 966.7,735 961.7,730 960,721.7" fill="#D9D9D9"/>
<polygon points="906.7,793.3 918.3,791.7 926.7,796.7 930,810 928.3,820 931.7,828.3 926.7,835 921.7,841.7 910,838.3 901.7,833.3 908.3,820 905,806.7" fill="#D9D9D9"/>
<polygon points="870,808.3 886.7,810 896.7,803.3 905,806.7 908.3,820 901.7,833.3 890,836.7 870,836.7" fill="#D9D9D9"/>
<polygon points="989.3,558.7 996,554.7 998.7,562.7 993.3,570.7 989.3,573.3" fill="#D9D9D9"/>
<polygon points="998.7,564 1005.3,558.7 1014.7,555.3 1013.3,558.7 1004,564 1000,566.7" fill="#D9D9D9"/>
<polygon points="1024,614.7 1029.3,608 1033.3,608 1032,618.7 1033.3,625.3 1029.3,624 1025.3,620" fill="#D9D9D9"/>
<polygon points="1037.3,685.3 1045.3,684 1053.3,682.7 1060,686.7 1056,690.7 1045.3,693.3 1038,693.3" fill="#D9D9D9"/>
<polygon points="980,697.3 986.7,696 988.7,702.7 982.7,704.7" fill="#D9D9D9"/>
<polygon points="960,710.7 973.3,710.7 984,717.3 986.7,726.7 973.3,733.3 960,729.3" fill="#D9D9D9"/>
<polygon points="880,671.7 886.7,665 898.3,665 896.7,671.7 886.7,674.2" fill="#D9D9D9"/>
<polygon points="680,788.3 682,782 688,780 696,783 702,784 702,792 698,800 696,811 695,812 686,800 687,794" fill="#D9D9D9"/>
<polygon points="846,581.3 856.7,569.3 864.7,570.7 863.3,578.7 854,586.7" fill="#D9D9D9"/>
<polygon points="827.3,653.3 835.3,650.7 843.3,653.3 838,660 844.7,666.7 842,676 835.3,680 827.3,688" fill="#D9D9D9"/>
<polygon points="924.7,578.7 939.3,577.3 936.7,584 928.7,585.3" fill="#D9D9D9"/>
<polygon points="944.7,656 947.3,649.3 958,652 962,649.3 962,658.7 968.7,665.3 968.7,672 963.3,673.3 952.7,674.7 946,673.3 940.7,665.3" fill="#D9D9D9"/>
<polygon points="880.7,670.7 888.7,665.3 896.7,665.3 898,669.3 891.3,673.3 883.3,676" fill="#D9D9D9"/>
<polygon points="934,700 936.7,694.7 942,694.7 944.7,704 936.7,706.7" fill="#D9D9D9"/>
<polygon points="980.7,698.7 984.7,694.7 990,701.3 986,705.3 979.3,706.7" fill="#D9D9D9"/>
<polygon points="958,714.7 968.7,712 979.3,710.7 987.3,717.3 987.3,724 974,730.7 967.3,733.3 959.3,726.7" fill="#D9D9D9"/>
<polygon points="866,722.7 872.7,717.3 883.3,717.3 891.3,714.7 902,718.7 906,724 899.3,733.3 886,740 880.7,749.3 883.3,760 862,760 860.7,732" fill="#D9D9D9"/>
<polygon points="827.3,700 843.3,697.3 847.3,714.7 856.7,725.3 860.7,732 862,760 827.3,760" fill="#D9D9D9"/>
<polygon points="1187,189 1192,186 1201,186.4 1202,191 1196,194 1189,194" fill="#D9D9D9"/>
<polygon points="1138,115 1142,121 1134,132 1130,134 1140,141 1146,142 1150,137 1162,143 1165,156 1168,164 1174,168 1183,166 1190,165 1200,167 1212,164 1218,159 1226,161 1232,168 1239,176 1262,176 1270,168 1270,100 1138,100" fill="#D9D9D9"/>
<polygon points="1320,250 1324,244 1342,243 1345,250 1350,259 1362,260 1370,259 1382,258 1378,264 1370,268 1358,270 1350,272 1342,268 1336,274 1328,270 1324,264" fill="#D9D9D9"/>
<polygon points="978,764 984,760 994,761 996,768 988,772 980,772" fill="#D9D9D9"/>
</g></g>
<g fill="none" stroke="#4f4f4f" stroke-width="1.15" stroke-linejoin="round">
<polyline points="182,600 200,596 204,584 212,574 226,574 240,577 250,574 260,566 270,566 272,571 284,574 298,573 314,565 322,564 330,566 342,561 346,554 350,552 400,549 416,556"/>
<polyline points="416,556 426,555 430,551 448,557 454,556 453,546 445,542 447,536 458,530 450,518 441,513 440,499 432,495 442,491 460,486 483,480"/>
<polyline points="483,480 482,475 489,466 491,456 494,450 496,441 514,438 520,428 530,418 543,410 548,414 556,409 565,405 566,396 565,390 572,385"/>
<polyline points="590,384 605,414 600,418 617,434 617,440 626,436 634,435 648,433 656,434 658,442 654,450 642,458 650,458 660,466 670,472 680,482 690,490 694,482 701,477 708,475 720,476 730,473 744,470 747,480 741,488 731,497 733,501 729,504 730,510 742,518 748,521 760,518 774,516 783,512"/>
<polyline points="483,480 492,477 499,477 502,483 514,486 526,488 531,497 540,496 548,499 558,497 568,503 578,499 580,494 587,490 585,480 592,477 602,480 610,485 616,481 626,480 634,484 640,489 650,496 657,500 666,502 676,506 684,512 698,513 705,523 712,528 711,535 717,543 722,552 718,563 715,567 708,570 705,575 707,580 698,583 697,588 700,595 700,602 693,605 683,603 672,600 671,603 675,608 680,614 688,618 692,620 696,624 692,626"/>
<polyline points="692,626 697,627 690,631 680,628 678,637 680,642 672,650"/>
<polyline points="416,557 424,562 422,572 417,578 420,584 425,588 423,596 426,600 421,607 426,616 436,626 446,631 460,632 472,638 484,640 496,642 508,646 520,648 532,643 540,650 548,654 552,664 560,667 568,669 569,662 578,667 581,660 592,658 595,646"/>
<polyline points="595,646 594,638 598,628 602,623 595,618 596,611 604,604 617,606 620,614 626,624 630,631 640,637 648,640 650,635 657,643 668,640 679,638 680,629 688,630 692,626"/>
<polyline points="595,646 610,648 616,658 620,666 627,676 623,678 628,692 631,706 632,720 633,732 631,740 626,737 623,739 622,752 619,758 615,754 613,758"/>
<polyline points="633,732 635,748 638,757 641,749 647,741 654,751 658,755 654,758 660,768 668,765 676,780 680,788 687,794 686,800 695,812 700,810 710,805 722,801 719,792 718,786 720,778 730,768 732,758 739,752 740,747 750,746 751,750 749,756 754,764 764,760 770,761 773,767"/>
<polyline points="773,767 768,777 758,779 751,776 747,780 742,777 735,785 738,792 738,799 746,799 754,795 758,806 751,820 760,830 760,833"/>
<polyline points="760,833 755,840 755,848 759,854 767,853 772,860 786,862 792,868 791,874 780,880 778,886"/>
<polyline points="760,833 773,838 790,847 808,830 817,825 827,833 837,827 847,828 857,818 865,812"/>
<polyline points="773,767 780,770 795,767 797,762 788,758 780,753 782,748 788,742 797,747 805,745 812,740 818,737 820,732 827,732 833,733 840,737 843,745 850,750 857,757 862,752 862,732"/>
<polyline points="862,732 863,763 867,772 852,787 860,783 867,790 863,800 865,812"/>
<polyline points="795,737 783,730 780,725 773,722 778,715 778,707 783,702 788,705 795,703 802,705 807,710 812,710 818,700 822,692 830,687 833,678 840,672 845,663 840,652 847,655 857,658 863,665 868,667"/>
<polyline points="868,667 880,672 882,680 880,688 882,697 888,703 890,715 880,718 870,717 863,725 862,732"/>
<polyline points="888,705 897,707 910,712 923,717 930,722 935,720 942,717 945,723 952,722 957,716 962,720 960,728 967,735 971,742"/>
<polyline points="1016,716 1000,716 993,721 974,730 968,736 971,748 973,754 962,762"/>
<polyline points="1016,716 1014,704 1009,694 1014,686 999,674"/>
<polyline points="999,674 993,671 982,672 976,665 965,662 961,650 950,652 937,649 926,651 913,645 906,637 901,628"/>
<polyline points="883,593 887,599 893,612 901,619 901,628"/>
<polyline points="901,628 890,629 874,628 866,629 873,636 881,639 881,643 869,647 867,653 870,667"/>
<polyline points="999,674 1010,664 1011,646 1003,649 995,644 988,633 998,630 998,620 1004,619 1004,608 1010,609 1024,612 1026,604 1023,600 1017,596"/>
<polyline points="962,762 959,774 963,782 965,798 970,800 971,810 967,812 966,824 968,828"/>
<polyline points="926,838 930,834 940,836 943,830 952,826 966,828"/>
<polyline points="865,812 875,810 882,810 890,805 898,807 907,803 910,815 906,826 901,836 908,840 916,847 926,838"/>
<polyline points="916,847 924,850 922,858 916,868 910,878 910,888 902,897 896,900 893,909 887,912 886,918 878,920 873,928"/>
<polyline points="966,828 980,830 984,835 976,840 973,847 979,850 990,847 1000,845 1007,849 1009,842"/>
<polyline points="1009,842 1010,834 1014,822 1019,812 1025,800 1026,790 1033,787 1038,780 1036,772 1047,763 1056,762 1068,754"/>
<polyline points="1009,842 1018,842 1030,848 1034,858 1036,870 1038,877"/>
<polyline points="1068,754 1073,755 1078,776 1088,777 1094,771 1097,779 1108,777 1112,780"/>
<polyline points="1094,683 1090,694 1086,696 1088,702 1078,705 1076,716 1070,721 1061,726 1059,733 1064,740 1068,754"/>
<polyline points="1061,726 1054,720 1046,721 1039,714 1030,716 1029,711 1016,716"/>
<polyline points="1094,683 1100,682 1108,687 1114,690 1119,685 1125,684 1131,692"/>
<polyline points="1125,684 1128,675 1133,672 1147,673"/>
<polyline points="1021,587 1021,592 1017,596 1024,601 1032,596 1039,604 1048,607 1053,615 1061,616 1056,627 1061,632 1067,641 1075,639 1076,644 1072,645 1071,651 1065,660 1069,665 1077,672 1075,679 1088,677 1094,683"/>
<polyline points="1021,587 1027,585 1035,589 1040,595 1047,596 1053,592 1061,593 1063,599 1067,597 1071,591 1076,589 1079,583 1085,581"/>
<polyline points="1055,500 1047,507 1038,510 1028,513 1022,520 1013,520 1008,527 1003,535 998,542 1000,553 993,555 990,557 988,565 990,573 988,577 987,583 980,585 970,587 965,598 975,602 987,600 995,603 1005,600 1010,605 1017,596"/>
<polyline points="987,583 980,580 967,578 960,573 953,570"/>
<polyline points="965,418 968,433 973,443 980,448 967,455 977,467 975,478 963,483 958,493 967,507 970,515 963,527 957,540 962,548 960,565 953,570 943,575 923,578 915,585 902,588 883,593"/>
<polyline points="905,468 898,487 890,500 895,515 887,532 889,550 890,567 883,583 883,593"/>
<polyline points="905,468 912,465 922,461 927,452 933,448 947,447 958,444 970,438 968,433"/>
<polyline points="965,418 973,405 987,400 990,412 998,414 1010,410 1020,406 1030,404 1034,392 1050,389 1054,390 1060,402 1064,408 1062,416 1068,422 1086,423"/>
<polyline points="1086,423 1078,434 1086,438 1094,442 1099,456"/>
<polyline points="1086,423 1088,398 1094,396 1102,410 1110,404 1126,398 1138,393 1147,387 1157,385 1173,383 1183,377 1187,368"/>
<polyline points="1172,298 1166,300 1163,308 1156,305 1149,306 1142,303 1140,308 1147,315 1150,325 1148,333 1153,345 1172,340 1180,357 1177,365 1187,368"/>
<polyline points="1187,368 1198,375 1203,382 1208,375 1212,377 1217,393 1225,402 1222,407 1227,417 1232,425 1228,428 1233,433"/>
<polyline points="1172,298 1174,295 1190,295 1193,308 1203,317 1215,315 1230,315 1233,320 1242,323 1250,322 1258,325 1260,338 1268,340 1273,348 1280,352 1288,342 1293,347 1297,353 1302,365 1308,365 1310,358 1323,355 1333,353 1337,363 1345,367 1355,362"/>
<polyline points="1138,115 1142,121 1134,132 1130,134 1140,141 1146,142 1150,137 1162,143 1165,156 1168,164 1174,168 1183,166 1190,165 1200,167 1212,164 1218,159 1226,161 1232,168 1237,174 1239,176 1234,182 1232,188 1226,192 1220,198 1218,208 1220,216 1218,222 1211,223 1207,232 1204,238 1205,246 1202,249 1198,238 1190,244 1176,254 1166,262 1157,269 1165,276 1169,284 1177,279 1183,280 1183,284 1170,287 1170,290 1172,298"/>
<polyline points="1008,442 1013,438 1022,430 1027,430 1037,437 1047,438 1040,443 1043,450 1040,453 1040,465 1030,466 1022,468 1013,467 1007,467 1002,462 1000,455 1007,450 1008,442"/>
<polyline points="1043,450 1052,455 1047,463 1053,470 1057,477 1050,490 1040,492 1030,487 1028,475 1030,466"/>
<polyline points="790,480 798.3,473.3 804.2,468.3 806.7,475 810,480 806.7,485 803.3,491.7 800,498.3 806.7,501.7 815,502.5 823.3,508.3 825,512.5 818.3,516.7 816.7,523.3 817.5,528.3 820,533.3 826.7,536.7 836.7,540.8 845,545 848.3,551.7 845.8,558.3 844.2,566.7 846.7,574.2 838.3,575.8 827.5,577.5 825,583.3 815,585 810,581.7 800.8,581.7 796.7,575.8 791.7,572.5 786.7,570.8 781.7,566.7 776.7,565 774.2,558.3 776.7,553.3 774.2,543.3 766.7,533.3 760,528.3 756.7,523.3 766.7,516.7 780,513.3 783.3,500 785,488.3 790,480"/>
<polyline points="825,512 833,514 843,512 849,512 852,505 857,502 855,497 865,487 873,480 882,471 888,472 900,467 905,468"/>
<polyline points="846.7,574.2 846.7,583.3 852.5,587.5 856.7,591.7 850,596.7 843.3,600 833.3,603.3 830.8,610 821.7,611.7 810,615 800,620 790,621.7 783.3,625 786.7,630 785,635 783.3,637.5 788.3,639.2 796.7,644.2 805,641.7 811.7,643.3 815,647.5 823.3,650 826.7,656.7 823.3,665 818.3,671.7 810,675"/>
<polyline points="650,633.3 665.8,650 671.7,656.7 676.7,666.7 686.7,675 698.3,681.7 701.7,686.7 700,695 713.3,686.7 720,690 730,686.7 733.3,678.3 738.3,671.7 745,666.7 738.3,660 740,651.7 746.7,646.7 743.3,641.7 741.7,633.3 750.8,636.7 758.3,641.7 760,645 766.7,650 771.7,655 770,661.7 775,670 781.7,665 788.3,666.7 796.7,665 803.3,668.3 810,675 818.3,671.7 823.3,665 835,654.2 841.7,655 840,661.7 845,666.7 855,656.7"/>
<polygon points="350,238 334,241 329,249 332,266 332,275 316,280 310,277 296,278 284,276 273,271 266,288 258,304 255,314 263,319 262,322 250,321 243,318 230,322 210,327 203,330 212,338 214,352 220,364 222,374 214,378 216,382 209,388 211,398 204,404 190,409 178,416 163,421 154,430 137,428 131,433 127,443 110,448 104,439 96,444 88,443 87,447 70,454 67,464 59,471 65,480 64,486 70,493 82,490 89,498 89,501 92,514 95,522 81,527 82,531 100,534 103,538 112,542 116,550 115,556 119,562 126,560 136,567 149,571 160,571 162,580 166,592 180,599 182,600 175,606 176,618 186,630 189,644 182,651 176,643 169,646 170,655 178,666 177,676 183,685 190,684 204,694 216,699 226,704 232,711 238,700 252,704 260,714 276,722 286,732 297,729 300,739 314,747 320,745 320,753 332,754 340,764 343,759 348,764 354,760 366,767 378,766 390,763 399,760 404,762 404,770 402,776 406,782 410,778 410,770 420,759 426,756 442,761 454,766 459,761 465,765 466,774 475,777 477,791 490,790 506,790 515,787 517,782 527,772 538,768 550,760 560,755 572,760 588,768 593,764 594,758 598,750 602,749 612,758 613,765 617,774 620,771 625,774 626,796 623,810 624,816 613,824 610,830 603,837 602,844 598,846 599,854 603,855 604,861 599,866 601,868 609,863 628,861 625,866 629,876 629,884 640,887 643,891 639,898 635,911 649,914 654,916 654,922 659,929 668,928 678,922 681,934 685,936 694,936 693,924 689,916 690,906 697,903 708,896 721,903 729,895 733,900 736,896 743,902 749,894 760,890 762,886 774,880 779,888 788,891 797,894 804,893 806,898 801,904 804,910 804,916 811,918 817,923 823,926 831,925 837,928 846,925 852,926 858,931 866,928 872,930 871,938 872,948 875,955 876,960 884,960 891,957 890,951 886,947 883,942 888,937 892,936 890,943 894,933 900,930 910,928 920,925 927,921 933,922 937,925 942,924 943,919 948,918 952,914 958,908 961,900 963,898 965,906 967,909 974,909 976,904 980,901 983,896 990,898 994,894 1003,897 1008,893 1016,890 1024,886 1034,878 1038,879 1039,875 1050,870 1054,864 1060,858 1059,853 1070,850 1073,843 1080,838 1079,833 1088,832 1084,828 1099,827 1094,820 1094,810 1099,804 1098,798 1104,797 1110,788 1112,780 1118,774 1124,764 1128,760 1139,754 1139,746 1140,738 1139,734 1147,733 1146,724 1143,719 1150,718 1147,713 1144,712 1137,705 1128,700 1127,696 1132,692 1139,691 1149,694 1148,690 1148,680 1147,673 1147,668 1144,660 1134,650 1124,643 1122,632 1116,616 1110,600 1098,594 1086,588 1085,583 1093,576 1095,566 1105,560 1108,553 1118,548 1124,542 1136,538 1150,534 1158,536 1161,528 1163,522 1150,519 1138,520 1128,516 1120,512 1108,515 1104,522 1098,525 1092,529 1084,526 1079,520 1080,515 1086,512 1083,507 1078,504 1068,503 1058,501 1052,494 1051,488 1055,482 1059,477 1070,480 1078,477 1085,470 1090,462 1098,457 1108,452 1116,444 1126,435 1136,434 1144,434 1150,439 1152,445 1147,450 1142,457 1136,461 1130,468 1134,474 1139,478 1132,481 1127,485 1128,488 1138,484 1150,478 1160,470 1170,466 1182,462 1196,461 1202,450 1216,442 1226,435 1234,431 1238,430 1250,418 1258,410 1264,416 1284,420 1289,416 1284,406 1290,404 1302,404 1310,396 1320,392 1324,380 1332,382 1336,388 1341,393 1338,384 1350,380 1354,372 1356,366 1355,350 1352,336 1348,331 1362,326 1370,321 1382,324 1394,327 1398,322 1398,314 1404,306 1410,300 1414,290 1418,280 1420,272 1428,264 1434,259 1430,252 1432,244 1441,241 1430,242 1420,242 1408,246 1394,249 1386,254 1382,258 1370,259 1362,260 1350,259 1345,250 1344,243 1339,236 1342,230 1334,228 1328,224 1322,219 1316,215 1308,214 1298,210 1288,211 1278,209 1273,204 1273,196 1268,192 1266,182 1260,175 1258,166 1252,158 1249,146 1244,140 1238,130 1230,122 1220,118 1212,119 1200,118 1190,112 1182,109 1170,110 1160,111 1148,112 1138,115 1120,117 1114,122 1104,130 1104,134 1117,133 1119,139 1118,150 1110,155 1104,159 1100,166 1096,174 1090,182 1086,186 1083,191 1087,194 1085,199 1074,202 1066,205 1060,209 1052,212 1038,208 1029,205 1024,214 1016,226 1009,238 1007,247 1003,249 1005,254 1011,259 1020,255 1034,255 1043,260 1054,252 1070,252 1074,257 1084,262 1090,267 1098,274 1101,280 1100,286 1090,287 1080,284 1076,283 1064,285 1054,288 1044,288 1043,293 1030,294 1024,297 1018,306 1017,310 1002,317 990,318 984,317 978,322 970,329 960,334 948,333 938,330 932,327 922,326 915,332 910,344 916,352 922,360 912,367 900,372 894,378 888,384 880,387 870,390 864,394 850,394 830,395 820,394 810,396 798,400 786,404 776,408 766,414 756,413 755.6,408 746,409 734,408 722,405 714,401 706,401 698,398 694,393 690,391.6 680,388 660,388 640,390 620,388 600,386 590,384.4 574,385.6 572,385 571,380 564,374 560,366 554,354 549,352 550,347 540,344 530,338 520,332 510,329 500,327 490,327 474,326 462,326 450,322 445,316 445,310 452,302 450,294 453,288 451,280 442,272 439,262 431,255 422,253 420,250 410,251 398,246 396,241 384,236 378,229 382,226 380,221 370,221.6 359,222 355,227 356,233"/>
</g>
<g stroke="#4f4f4f" stroke-width="1.15" stroke-linejoin="round">
<polygon points="894.4,962.2 899.5,965.9 902.5,975.4 895.9,980.5 892.2,987.9 890.7,996.7 882.7,1002.5 878.3,1008.4 871.7,1013.5 863.6,1011.3 854.8,1009.1 848.2,1005.5 846.7,990.8 846.7,984.2 851.9,979.1 859.2,971.7 863.6,968.1 869.5,965.9 881.2,964.4 888.5,962.9" fill="#D9D9D9"/>
<polygon points="1128,666 1133,663 1142,667 1147,671 1140,672 1133,670" fill="#FFFACA"/>
<polygon points="1137.3,830.4 1142,834 1146,835.3 1147.3,838.4 1144.7,842.7 1144,846.7 1144.9,852 1142,857.3 1140,864 1138.7,872 1136,881.3 1133.3,888 1131.3,894.7 1126,898.7 1123.3,904 1122.7,913.3 1121.3,918.7 1118.3,917.3 1117.3,911.3 1115.3,906 1111.3,904 1107.3,900 1106,894.7 1104.7,888.7 1102.7,887.7 1104.4,881.3 1104.7,872 1109.3,864 1114,856 1116.7,850.7 1122,845.3 1122.7,841.3 1126,836.7 1133.3,834.7 1134.7,831.7" fill="#FFF0AE"/>
<polygon points="964,1282.7 973.3,1276 980,1274.1 977.3,1280 969.3,1284" fill="#D9D9D9"/>
</g>
<g fill="none" stroke="#4f4f4f" stroke-width="1.2">
<polyline points="1165.3,849.3 1158.3,878.7"/>
<polyline points="1145.3,923.3 1128.4,946"/>
<polyline points="1105,985 1090,1018"/>
<polyline points="862.1,1063.5 869.3,1074.7 874.7,1090.1"/>
<polyline points="1081.3,1067.2 1081.3,1094.7"/>
<polyline points="885.3,1164 884,1176 879.2,1190.1"/>
<polyline points="1079.2,1170.1 1074.7,1186.7 1069.3,1198.7"/>
<polyline points="1018.1,1273.3 1001.9,1294.7"/>
<polyline points="838.1,1296 837.3,1309.3 840,1323.2"/>
<polyline points="917.3,1389.9 932,1386.1 942.7,1381.3"/>
<polyline points="865.3,1289.3 872,1284 876.5,1284.8 868,1290.7"/>
</g>
<g fill="#4f4f4f">
<circle cx="911.2" cy="1040.5" r="0.65"/>
<circle cx="928.8" cy="1044.8" r="0.65"/>
<circle cx="928" cy="1048.5" r="0.65"/>
<circle cx="914.7" cy="1055.5" r="0.65"/>
<circle cx="916.5" cy="1057.3" r="0.65"/>
<circle cx="923.5" cy="1060" r="0.65"/>
<circle cx="934.7" cy="1056.5" r="0.65"/>
<circle cx="937.3" cy="1059.2" r="0.65"/>
<circle cx="914.7" cy="1063.5" r="0.65"/>
<circle cx="918.1" cy="1066.1" r="0.65"/>
<circle cx="933.3" cy="1067.2" r="0.65"/>
<circle cx="935.2" cy="1068.8" r="0.65"/>
<circle cx="928" cy="1076" r="0.65"/>
<circle cx="966.7" cy="1072" r="0.65"/>
<circle cx="972" cy="1068.8" r="0.65"/>
<circle cx="978.7" cy="1066.7" r="0.65"/>
<circle cx="985.3" cy="1064" r="0.65"/>
<circle cx="988" cy="1067.2" r="0.65"/>
<circle cx="980" cy="1077.9" r="0.65"/>
<circle cx="965.3" cy="1081.3" r="0.65"/>
<circle cx="977.3" cy="1078.7" r="0.65"/>
<circle cx="1028.8" cy="1060" r="0.65"/>
<circle cx="1052" cy="1090.1" r="0.65"/>
<circle cx="999.2" cy="1120.8" r="0.65"/>
<circle cx="982.7" cy="1184" r="0.65"/>
<circle cx="1028.8" cy="1184" r="0.65"/>
<circle cx="969.9" cy="1197.9" r="0.65"/>
<circle cx="980" cy="1200" r="0.65"/>
<circle cx="984.8" cy="1194.7" r="0.65"/>
<circle cx="989.3" cy="1198.7" r="0.65"/>
<circle cx="1041.3" cy="1194.7" r="0.65"/>
<circle cx="1043.5" cy="1204" r="0.65"/>
<circle cx="1050.7" cy="1196" r="0.65"/>
<circle cx="1053.3" cy="1201.3" r="0.65"/>
<circle cx="1008" cy="1209.3" r="0.65"/>
<circle cx="1025.3" cy="1212" r="0.65"/>
<circle cx="1032" cy="1209.3" r="0.65"/>
<circle cx="1041.3" cy="1213.3" r="0.65"/>
<circle cx="1043.5" cy="1220" r="0.65"/>
<circle cx="958.7" cy="1215.5" r="0.65"/>
<circle cx="964" cy="1220" r="0.65"/>
<circle cx="974.7" cy="1214.7" r="0.65"/>
<circle cx="984" cy="1212.8" r="0.65"/>
<circle cx="982.7" cy="1222.7" r="0.65"/>
<circle cx="983.2" cy="1228.8" r="0.65"/>
<circle cx="997.3" cy="1216.5" r="0.65"/>
<circle cx="1002.7" cy="1224" r="0.65"/>
<circle cx="1009.3" cy="1228.8" r="0.65"/>
<circle cx="1014.1" cy="1219.2" r="0.65"/>
<circle cx="1024" cy="1227.2" r="0.65"/>
<circle cx="1017.3" cy="1232" r="0.65"/>
<circle cx="972" cy="1237.3" r="0.65"/>
<circle cx="1000.8" cy="1236.8" r="0.65"/>
<circle cx="1012" cy="1240" r="0.65"/>
<circle cx="1024" cy="1242.7" r="0.65"/>
<circle cx="1029.3" cy="1245.9" r="0.65"/>
<circle cx="1020" cy="1250.7" r="0.65"/>
<circle cx="960" cy="1242.1" r="0.65"/>
<circle cx="960" cy="1248" r="0.65"/>
<circle cx="966.7" cy="1250.7" r="0.65"/>
<circle cx="972.5" cy="1253.3" r="0.65"/>
<circle cx="982.7" cy="1250.7" r="0.65"/>
<circle cx="935.2" cy="1234.1" r="0.65"/>
<circle cx="928" cy="1250.7" r="0.65"/>
<circle cx="936" cy="1251.2" r="0.65"/>
<circle cx="942.1" cy="1250.1" r="0.65"/>
<circle cx="911.2" cy="1258.7" r="0.65"/>
<circle cx="915.5" cy="1256.5" r="0.65"/>
<circle cx="944" cy="1261.9" r="0.65"/>
<circle cx="952" cy="1268" r="0.65"/>
<circle cx="922.7" cy="1270.7" r="0.65"/>
<circle cx="889.3" cy="1269.3" r="0.65"/>
<circle cx="891.5" cy="1272.5" r="0.65"/>
<circle cx="889.3" cy="1277.3" r="0.65"/>
<circle cx="878.1" cy="1275.5" r="0.65"/>
<circle cx="914.7" cy="1276" r="0.65"/>
<circle cx="913.3" cy="1280.5" r="0.65"/>
<circle cx="916.5" cy="1279.5" r="0.65"/>
<circle cx="912.8" cy="1284" r="0.65"/>
<circle cx="943.2" cy="1276.8" r="0.65"/>
<circle cx="966.1" cy="1273.3" r="0.65"/>
<circle cx="982.7" cy="1268" r="0.65"/>
<circle cx="986.7" cy="1272.5" r="0.65"/>
<circle cx="988.5" cy="1279.5" r="0.65"/>
<circle cx="990.7" cy="1286.7" r="0.65"/>
<circle cx="983.2" cy="1283.2" r="0.65"/>
<circle cx="986.7" cy="1292.8" r="0.65"/>
<circle cx="964" cy="1289.3" r="0.65"/>
<circle cx="994.7" cy="1262.7" r="0.65"/>
<circle cx="1001.3" cy="1260" r="0.65"/>
<circle cx="958.7" cy="1300" r="0.65"/>
<circle cx="950.7" cy="1316" r="0.65"/>
<circle cx="935.2" cy="1324.8" r="0.65"/>
<circle cx="934.7" cy="1330.7" r="0.65"/>
<circle cx="930.7" cy="1333.3" r="0.65"/>
<circle cx="936.8" cy="1336.5" r="0.65"/>
<circle cx="936.8" cy="1340" r="0.65"/>
<circle cx="936.8" cy="1347.2" r="0.65"/>
<circle cx="944" cy="1348.8" r="0.65"/>
<circle cx="923.5" cy="1378.1" r="0.65"/>
<circle cx="928" cy="1376.5" r="0.65"/>
<circle cx="1180" cy="819.7" r="1.3"/>
<circle cx="1185" cy="815" r="0.8"/>
<circle cx="1204.7" cy="815" r="0.8"/>
<circle cx="1149" cy="822.7" r="0.7"/>
<circle cx="1150" cy="826.4" r="0.7"/>
<circle cx="1093" cy="875" r="1.4"/>
<circle cx="1089.7" cy="884.7" r="0.8"/>
<circle cx="1136" cy="899" r="1"/>
<circle cx="1137.3" cy="914" r="1.3"/>
<circle cx="1110.7" cy="906.7" r="0.8"/>
<circle cx="858" cy="940" r="0.9"/>
<circle cx="945" cy="979" r="1.2"/>
<circle cx="964" cy="987" r="1.3"/>
<circle cx="1012" cy="939" r="1.3"/>
<circle cx="1031" cy="948" r="1.6"/>
<circle cx="1149" cy="823" r="0.7"/>
<circle cx="1156" cy="693" r="1.2"/>
<circle cx="1165" cy="692" r="0.7"/>
<circle cx="1154" cy="700" r="1"/>
<circle cx="1146" cy="704" r="1.2"/>
<circle cx="1150" cy="708" r="1"/>
<circle cx="1154" cy="712" r="1.1"/>
<circle cx="1157" cy="716" r="1.1"/>
<circle cx="1152" cy="718" r="0.9"/>
<circle cx="1148" cy="712" r="1"/>
<circle cx="1156" cy="722" r="0.8"/>
<circle cx="1120" cy="498" r="0.7"/>
<circle cx="1117" cy="508" r="0.7"/>
<circle cx="1158" cy="474" r="0.8"/>
<circle cx="1165" cy="476" r="0.8"/>
<circle cx="1172" cy="479" r="0.8"/>
<circle cx="1143" cy="742" r="0.7"/>
<circle cx="1145" cy="750" r="0.7"/>
<circle cx="1128" cy="762" r="1.2"/>
<circle cx="1126" cy="766" r="1"/>
<circle cx="1130" cy="772" r="0.7"/>
<circle cx="1110" cy="790" r="0.8"/>
<circle cx="1104" cy="800" r="1"/>
<circle cx="1100" cy="806" r="1"/>
<circle cx="1096" cy="812" r="0.8"/>
<circle cx="1097" cy="822" r="1.2"/>
<circle cx="1091" cy="828" r="1.2"/>
<circle cx="1084" cy="832" r="1"/>
<circle cx="1076" cy="838" r="0.8"/>
<circle cx="1062" cy="853" r="0.8"/>
<circle cx="1042" cy="874" r="1"/>
<circle cx="1040" cy="878" r="0.8"/>
</g>
<rect x="31" y="31" width="1438" height="1438" fill="none" stroke="#000" stroke-width="2" shape-rendering="crispEdges"/>
<rect x="72" y="881" width="42" height="42.2" fill="#FFFFE5" shape-rendering="crispEdges"/>
<rect x="72" y="923" width="42" height="42.2" fill="#FFFACA" shape-rendering="crispEdges"/>
<rect x="72" y="965" width="42" height="42.2" fill="#FFF0AE" shape-rendering="crispEdges"/>
<rect x="72" y="1007" width="42" height="42.2" fill="#FEE391" shape-rendering="crispEdges"/>
<rect x="72" y="1049" width="42" height="42.2" fill="#FECE65" shape-rendering="crispEdges"/>
<rect x="72" y="1091" width="42" height="42.2" fill="#FEB642" shape-rendering="crispEdges"/>
<rect x="72" y="1133" width="42" height="42.2" fill="#FE9929" shape-rendering="crispEdges"/>
<rect x="72" y="1175" width="42" height="42.2" fill="#F27E1B" shape-rendering="crispEdges"/>
<rect x="72" y="1217" width="42" height="42.2" fill="#E1640E" shape-rendering="crispEdges"/>
<rect x="72" y="1259" width="42" height="42.2" fill="#CC4C02" shape-rendering="crispEdges"/>
<rect x="72" y="1301" width="42" height="42.2" fill="#AA3C03" shape-rendering="crispEdges"/>
<rect x="72" y="1343" width="42" height="42.2" fill="#882F05" shape-rendering="crispEdges"/>
<rect x="72" y="1385" width="42" height="42" fill="#662506" shape-rendering="crispEdges"/>
<g font-family="Liberation Sans, sans-serif" fill="#000">
<text x="60.7" y="133.3" font-size="65.3">O-F1204</text>
<text x="125.3" y="915.8" font-size="34.55">0.04% - 0.24%</text>
<text x="125.3" y="957.8" font-size="34.55">0.24% - 0.43%</text>
<text x="125.3" y="999.8" font-size="34.55">0.43% - 0.63%</text>
<text x="125.3" y="1041.8" font-size="34.55">0.63% - 0.84%</text>
<text x="125.3" y="1083.8" font-size="34.55">0.84% - 1.12%</text>
<text x="125.3" y="1125.8" font-size="34.55">1.12% - 1.45%</text>
<text x="125.3" y="1167.8" font-size="34.55">1.45% - 1.78%</text>
<text x="125.3" y="1209.8" font-size="34.55">1.78% - 2.11%</text>
<text x="125.3" y="1251.8" font-size="34.55">2.11% - 2.56%</text>
<text x="125.3" y="1293.8" font-size="34.55">2.56% - 3.45%</text>
<text x="125.3" y="1335.8" font-size="34.55">3.45% - 4.63%</text>
<text x="125.3" y="1377.8" font-size="34.55">4.63% - 5.31%</text>
<text x="125.3" y="1419.8" font-size="34.55">5.31% - 14.68%</text>
<text x="1250.5" y="1420.3" font-size="34">:O1a</text>
</g>
<g fill="#000" font-family="'Liberation Serif', 'Noto Serif CJK SC', serif">
<text x="68.5" y="856" font-size="42.85" letter-spacing="1.45">相对占比</text>
<text x="1180.5" y="1422" font-size="36">作者</text>
<text x="1325.5" y="1422" font-size="36">溯源群</text>
</g>
</svg>
</body></html>
